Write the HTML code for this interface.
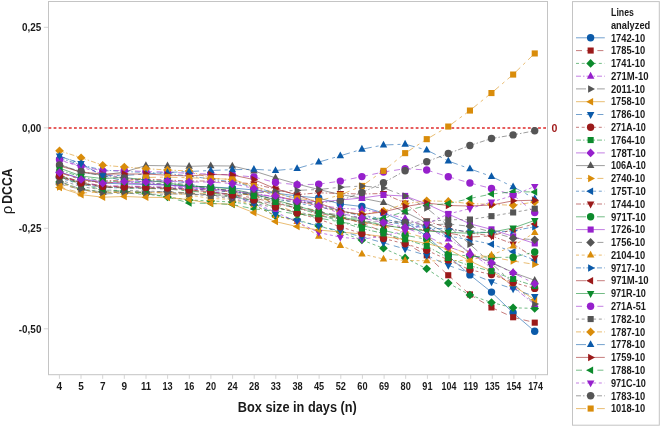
<!DOCTYPE html>
<html><head><meta charset="utf-8"><title>chart</title>
<style>html,body{margin:0;padding:0;background:#fff;}svg{display:block;will-change:transform;}</style></head>
<body>
<svg width="660" height="428" viewBox="0 0 660 428" font-family="Liberation Sans, sans-serif">
<rect width="660" height="428" fill="#fff"/>
<rect x="48.5" y="1.5" width="499" height="373.2" fill="#fff" stroke="#c4c4c4" stroke-width="1"/>
<line x1="43.8" x2="48" y1="27.3" y2="27.3" stroke="#d4d4d4" stroke-width="1"/>
<text x="41.4" y="31.0" font-size="10" font-weight="bold" fill="#1a1a1a" text-anchor="end" textLength="19.3" lengthAdjust="spacingAndGlyphs">0,25</text>
<line x1="43.8" x2="48" y1="127.8" y2="127.8" stroke="#d4d4d4" stroke-width="1"/>
<text x="41.4" y="131.5" font-size="10" font-weight="bold" fill="#1a1a1a" text-anchor="end" textLength="19.3" lengthAdjust="spacingAndGlyphs">0,00</text>
<line x1="43.8" x2="48" y1="228.3" y2="228.3" stroke="#d4d4d4" stroke-width="1"/>
<text x="41.4" y="232.0" font-size="10" font-weight="bold" fill="#1a1a1a" text-anchor="end" textLength="22.6" lengthAdjust="spacingAndGlyphs">-0,25</text>
<line x1="43.8" x2="48" y1="328.8" y2="328.8" stroke="#d4d4d4" stroke-width="1"/>
<text x="41.4" y="332.5" font-size="10" font-weight="bold" fill="#1a1a1a" text-anchor="end" textLength="22.6" lengthAdjust="spacingAndGlyphs">-0,50</text>
<line x1="59.4" x2="59.4" y1="375" y2="378.8" stroke="#d4d4d4" stroke-width="1"/>
<text x="59.4" y="389.6" font-size="10" font-weight="bold" fill="#1a1a1a" text-anchor="middle" textLength="5.56" lengthAdjust="spacingAndGlyphs">4</text>
<line x1="81.0" x2="81.0" y1="375" y2="378.8" stroke="#d4d4d4" stroke-width="1"/>
<text x="81.0" y="389.6" font-size="10" font-weight="bold" fill="#1a1a1a" text-anchor="middle" textLength="5.56" lengthAdjust="spacingAndGlyphs">5</text>
<line x1="102.7" x2="102.7" y1="375" y2="378.8" stroke="#d4d4d4" stroke-width="1"/>
<text x="102.7" y="389.6" font-size="10" font-weight="bold" fill="#1a1a1a" text-anchor="middle" textLength="5.56" lengthAdjust="spacingAndGlyphs">7</text>
<line x1="124.3" x2="124.3" y1="375" y2="378.8" stroke="#d4d4d4" stroke-width="1"/>
<text x="124.3" y="389.6" font-size="10" font-weight="bold" fill="#1a1a1a" text-anchor="middle" textLength="5.56" lengthAdjust="spacingAndGlyphs">9</text>
<line x1="146.0" x2="146.0" y1="375" y2="378.8" stroke="#d4d4d4" stroke-width="1"/>
<text x="146.0" y="389.6" font-size="10" font-weight="bold" fill="#1a1a1a" text-anchor="middle" textLength="10.2" lengthAdjust="spacingAndGlyphs">11</text>
<line x1="167.6" x2="167.6" y1="375" y2="378.8" stroke="#d4d4d4" stroke-width="1"/>
<text x="167.6" y="389.6" font-size="10" font-weight="bold" fill="#1a1a1a" text-anchor="middle" textLength="10.2" lengthAdjust="spacingAndGlyphs">13</text>
<line x1="189.3" x2="189.3" y1="375" y2="378.8" stroke="#d4d4d4" stroke-width="1"/>
<text x="189.3" y="389.6" font-size="10" font-weight="bold" fill="#1a1a1a" text-anchor="middle" textLength="10.2" lengthAdjust="spacingAndGlyphs">16</text>
<line x1="210.9" x2="210.9" y1="375" y2="378.8" stroke="#d4d4d4" stroke-width="1"/>
<text x="210.9" y="389.6" font-size="10" font-weight="bold" fill="#1a1a1a" text-anchor="middle" textLength="10.2" lengthAdjust="spacingAndGlyphs">20</text>
<line x1="232.6" x2="232.6" y1="375" y2="378.8" stroke="#d4d4d4" stroke-width="1"/>
<text x="232.6" y="389.6" font-size="10" font-weight="bold" fill="#1a1a1a" text-anchor="middle" textLength="10.2" lengthAdjust="spacingAndGlyphs">24</text>
<line x1="254.2" x2="254.2" y1="375" y2="378.8" stroke="#d4d4d4" stroke-width="1"/>
<text x="254.2" y="389.6" font-size="10" font-weight="bold" fill="#1a1a1a" text-anchor="middle" textLength="10.2" lengthAdjust="spacingAndGlyphs">28</text>
<line x1="275.8" x2="275.8" y1="375" y2="378.8" stroke="#d4d4d4" stroke-width="1"/>
<text x="275.8" y="389.6" font-size="10" font-weight="bold" fill="#1a1a1a" text-anchor="middle" textLength="10.2" lengthAdjust="spacingAndGlyphs">33</text>
<line x1="297.5" x2="297.5" y1="375" y2="378.8" stroke="#d4d4d4" stroke-width="1"/>
<text x="297.5" y="389.6" font-size="10" font-weight="bold" fill="#1a1a1a" text-anchor="middle" textLength="10.2" lengthAdjust="spacingAndGlyphs">38</text>
<line x1="319.1" x2="319.1" y1="375" y2="378.8" stroke="#d4d4d4" stroke-width="1"/>
<text x="319.1" y="389.6" font-size="10" font-weight="bold" fill="#1a1a1a" text-anchor="middle" textLength="10.2" lengthAdjust="spacingAndGlyphs">45</text>
<line x1="340.8" x2="340.8" y1="375" y2="378.8" stroke="#d4d4d4" stroke-width="1"/>
<text x="340.8" y="389.6" font-size="10" font-weight="bold" fill="#1a1a1a" text-anchor="middle" textLength="10.2" lengthAdjust="spacingAndGlyphs">52</text>
<line x1="362.4" x2="362.4" y1="375" y2="378.8" stroke="#d4d4d4" stroke-width="1"/>
<text x="362.4" y="389.6" font-size="10" font-weight="bold" fill="#1a1a1a" text-anchor="middle" textLength="10.2" lengthAdjust="spacingAndGlyphs">60</text>
<line x1="384.1" x2="384.1" y1="375" y2="378.8" stroke="#d4d4d4" stroke-width="1"/>
<text x="384.1" y="389.6" font-size="10" font-weight="bold" fill="#1a1a1a" text-anchor="middle" textLength="10.2" lengthAdjust="spacingAndGlyphs">69</text>
<line x1="405.7" x2="405.7" y1="375" y2="378.8" stroke="#d4d4d4" stroke-width="1"/>
<text x="405.7" y="389.6" font-size="10" font-weight="bold" fill="#1a1a1a" text-anchor="middle" textLength="10.2" lengthAdjust="spacingAndGlyphs">80</text>
<line x1="427.4" x2="427.4" y1="375" y2="378.8" stroke="#d4d4d4" stroke-width="1"/>
<text x="427.4" y="389.6" font-size="10" font-weight="bold" fill="#1a1a1a" text-anchor="middle" textLength="10.2" lengthAdjust="spacingAndGlyphs">91</text>
<line x1="449.0" x2="449.0" y1="375" y2="378.8" stroke="#d4d4d4" stroke-width="1"/>
<text x="449.0" y="389.6" font-size="10" font-weight="bold" fill="#1a1a1a" text-anchor="middle" textLength="14.8" lengthAdjust="spacingAndGlyphs">104</text>
<line x1="470.7" x2="470.7" y1="375" y2="378.8" stroke="#d4d4d4" stroke-width="1"/>
<text x="470.7" y="389.6" font-size="10" font-weight="bold" fill="#1a1a1a" text-anchor="middle" textLength="14.8" lengthAdjust="spacingAndGlyphs">119</text>
<line x1="492.3" x2="492.3" y1="375" y2="378.8" stroke="#d4d4d4" stroke-width="1"/>
<text x="492.3" y="389.6" font-size="10" font-weight="bold" fill="#1a1a1a" text-anchor="middle" textLength="14.8" lengthAdjust="spacingAndGlyphs">135</text>
<line x1="513.9" x2="513.9" y1="375" y2="378.8" stroke="#d4d4d4" stroke-width="1"/>
<text x="513.9" y="389.6" font-size="10" font-weight="bold" fill="#1a1a1a" text-anchor="middle" textLength="14.8" lengthAdjust="spacingAndGlyphs">154</text>
<line x1="535.6" x2="535.6" y1="375" y2="378.8" stroke="#d4d4d4" stroke-width="1"/>
<text x="535.6" y="389.6" font-size="10" font-weight="bold" fill="#1a1a1a" text-anchor="middle" textLength="14.8" lengthAdjust="spacingAndGlyphs">174</text>
<text x="237.8" y="411.6" font-size="14" font-weight="bold" fill="#1a1a1a" textLength="119" lengthAdjust="spacingAndGlyphs">Box size in days (n)</text>
<g transform="translate(12,214.3) rotate(-90)"><text x="0" y="0" font-size="15" fill="#1a1a1a"><tspan font-weight="normal">ρ</tspan></text><text x="10.6" y="0" font-size="15.3" font-weight="bold" fill="#1a1a1a" textLength="35.2" lengthAdjust="spacingAndGlyphs">DCCA</text></g>
<line x1="48.5" x2="547.5" y1="128" y2="128" stroke="#e02a2a" stroke-width="1.6" stroke-dasharray="2.8 2.3"/>
<text x="551.6" y="131.8" font-size="10.6" font-weight="bold" fill="#a01c1c" textLength="5.9" lengthAdjust="spacingAndGlyphs">0</text>
<path d="M59.5 172.0L81.1 179.0L102.7 183.0L124.3 184.0L145.9 184.5L167.5 185.0L189.1 186.0L210.7 187.0L232.3 188.0L253.9 190.0L275.5 193.0L297.1 196.0L318.7 198.0L340.3 204.0L361.9 206.5L383.5 213.0L405.1 222.0L426.7 236.0L448.3 256.0L469.9 274.9L491.5 292.1L513.1 312.8L534.7 331.3" fill="none" stroke="#0b5aa9" stroke-width="0.8" stroke-opacity="0.72"/>
<path d="M59.5 175.0L81.1 182.0M81.1 182.0L102.7 186.0M102.7 186.0L124.3 186.5M124.3 186.5L145.9 187.0M145.9 187.0L167.5 187.5M167.5 187.5L189.1 189.0M189.1 189.0L210.7 190.0M210.7 190.0L232.3 192.0M232.3 192.0L253.9 196.0M253.9 196.0L275.5 201.0M275.5 201.0L297.1 206.0M297.1 206.0L318.7 211.0M318.7 211.0L340.3 217.0M340.3 217.0L361.9 223.0M361.9 223.0L383.5 232.0M383.5 232.0L405.1 243.0M405.1 243.0L426.7 255.4M426.7 255.4L448.3 275.3M448.3 275.3L469.9 294.5M469.9 294.5L491.5 307.5M491.5 307.5L513.1 317.3M513.1 317.3L534.7 322.6" fill="none" stroke="#9b1a1a" stroke-width="0.8" stroke-opacity="0.72" stroke-dasharray="6 4.7"/>
<path d="M59.5 182.0L81.1 189.0M81.1 189.0L102.7 192.0M102.7 192.0L124.3 192.5M124.3 192.5L145.9 194.0M145.9 194.0L167.5 197.0M167.5 197.0L189.1 200.0M189.1 200.0L210.7 201.0M210.7 201.0L232.3 202.0M232.3 202.0L253.9 205.0M253.9 205.0L275.5 216.0M275.5 216.0L297.1 220.0M297.1 220.0L318.7 226.0M318.7 226.0L340.3 232.0M340.3 232.0L361.9 240.0M361.9 240.0L383.5 248.3M383.5 248.3L405.1 257.9M405.1 257.9L426.7 268.8M426.7 268.8L448.3 283.1M448.3 283.1L469.9 295.0M469.9 295.0L491.5 302.5M491.5 302.5L513.1 307.8M513.1 307.8L534.7 308.4" fill="none" stroke="#0c8a2c" stroke-width="0.8" stroke-opacity="0.72" stroke-dasharray="3 2.7"/>
<path d="M59.5 176.0L81.1 183.0M81.1 183.0L102.7 186.0M102.7 186.0L124.3 186.0M124.3 186.0L145.9 186.5M145.9 186.5L167.5 187.0M167.5 187.0L189.1 188.0M189.1 188.0L210.7 189.0M210.7 189.0L232.3 190.5M232.3 190.5L253.9 193.0M253.9 193.0L275.5 197.0M275.5 197.0L297.1 201.0M297.1 201.0L318.7 205.0M318.7 205.0L340.3 208.3M340.3 208.3L361.9 209.3M361.9 209.3L383.5 213.0M383.5 213.0L405.1 218.4M405.1 218.4L426.7 226.8M426.7 226.8L448.3 239.0M448.3 239.0L469.9 252.0M469.9 252.0L491.5 268.0M491.5 268.0L513.1 287.0M513.1 287.0L534.7 304.5" fill="none" stroke="#9620cc" stroke-width="0.8" stroke-opacity="0.72" stroke-dasharray="5 2 1.5 2"/>
<path d="M59.5 181.5L81.1 189.0M81.1 189.0L102.7 194.0M102.7 194.0L124.3 193.0M124.3 193.0L145.9 194.5M145.9 194.5L167.5 194.0M167.5 194.0L189.1 194.0M189.1 194.0L210.7 195.0M210.7 195.0L232.3 196.0M232.3 196.0L253.9 193.0M253.9 193.0L275.5 191.5M275.5 191.5L297.1 190.4M297.1 190.4L318.7 189.5M318.7 189.5L340.3 187.3M340.3 187.3L361.9 186.0M361.9 186.0L383.5 187.9M383.5 187.9L405.1 196.0M405.1 196.0L426.7 208.0M426.7 208.0L448.3 225.8M448.3 225.8L469.9 244.3M469.9 244.3L491.5 263.5M491.5 263.5L513.1 283.0M513.1 283.0L534.7 304.0" fill="none" stroke="#555555" stroke-width="0.8" stroke-opacity="0.72" stroke-dasharray="10 4 3 4"/>
<path d="M59.5 187.6L81.1 194.7L102.7 197.2L124.3 196.5L145.9 197.3L167.5 197.5L189.1 199.6L210.7 203.5L232.3 204.2L253.9 212.7L275.5 221.6L297.1 226.6L318.7 230.0L340.3 232.0L361.9 234.0L383.5 236.5L405.1 239.5L426.7 243.5L448.3 249.0L469.9 261.0L491.5 271.0L513.1 285.5L534.7 299.8" fill="none" stroke="#d98c0a" stroke-width="0.8" stroke-opacity="0.72"/>
<path d="M59.5 156.0L81.1 163.6M81.1 163.6L102.7 175.7M102.7 175.7L124.3 181.0M124.3 181.0L145.9 181.5M145.9 181.5L167.5 180.5M167.5 180.5L189.1 183.0M189.1 183.0L210.7 191.3M210.7 191.3L232.3 194.8M232.3 194.8L253.9 203.4M253.9 203.4L275.5 214.5M275.5 214.5L297.1 220.7M297.1 220.7L318.7 226.0M318.7 226.0L340.3 231.0M340.3 231.0L361.9 236.9M361.9 236.9L383.5 242.8M383.5 242.8L405.1 249.0M405.1 249.0L426.7 255.4M426.7 255.4L448.3 265.4M448.3 265.4L469.9 273.0M469.9 273.0L491.5 281.8M491.5 281.8L513.1 288.8M513.1 288.8L534.7 296.4" fill="none" stroke="#0b5aa9" stroke-width="0.8" stroke-opacity="0.72" stroke-dasharray="6 4.7"/>
<path d="M59.5 176.0L81.1 183.0M81.1 183.0L102.7 186.5M102.7 186.5L124.3 187.0M124.3 187.0L145.9 187.5M145.9 187.5L167.5 188.0M167.5 188.0L189.1 190.0M189.1 190.0L210.7 192.0M210.7 192.0L232.3 195.0M232.3 195.0L253.9 200.0M253.9 200.0L275.5 207.0M275.5 207.0L297.1 213.0M297.1 213.0L318.7 219.2M318.7 219.2L340.3 226.8M340.3 226.8L361.9 233.5M361.9 233.5L383.5 238.5M383.5 238.5L405.1 243.8M405.1 243.8L426.7 250.3M426.7 250.3L448.3 259.9M448.3 259.9L469.9 269.8M469.9 269.8L491.5 274.5M491.5 274.5L513.1 282.5M513.1 282.5L534.7 288.4" fill="none" stroke="#9b1a1a" stroke-width="0.8" stroke-opacity="0.72" stroke-dasharray="3 2.7"/>
<path d="M59.5 170.0L81.1 177.0M81.1 177.0L102.7 181.0M102.7 181.0L124.3 182.0M124.3 182.0L145.9 183.0M145.9 183.0L167.5 184.0M167.5 184.0L189.1 186.0M189.1 186.0L210.7 188.0M210.7 188.0L232.3 191.0M232.3 191.0L253.9 196.0M253.9 196.0L275.5 202.0M275.5 202.0L297.1 208.0M297.1 208.0L318.7 214.3M318.7 214.3L340.3 221.7M340.3 221.7L361.9 228.5M361.9 228.5L383.5 233.5M383.5 233.5L405.1 239.4M405.1 239.4L426.7 246.0M426.7 246.0L448.3 258.0M448.3 258.0L469.9 265.8M469.9 265.8L491.5 271.2M491.5 271.2L513.1 279.0M513.1 279.0L534.7 286.0" fill="none" stroke="#0c8a2c" stroke-width="0.8" stroke-opacity="0.72" stroke-dasharray="5 2 1.5 2"/>
<path d="M59.5 172.6L81.1 179.5M81.1 179.5L102.7 183.3M102.7 183.3L124.3 181.5M124.3 181.5L145.9 182.0M145.9 182.0L167.5 181.0M167.5 181.0L189.1 182.0M189.1 182.0L210.7 182.0M210.7 182.0L232.3 183.6M232.3 183.6L253.9 188.4M253.9 188.4L275.5 195.8M275.5 195.8L297.1 201.0M297.1 201.0L318.7 206.0M318.7 206.0L340.3 213.3M340.3 213.3L361.9 218.0M361.9 218.0L383.5 222.6M383.5 222.6L405.1 227.6M405.1 227.6L426.7 236.0M426.7 236.0L448.3 246.6M448.3 246.6L469.9 254.5M469.9 254.5L491.5 262.8M491.5 262.8L513.1 272.8M513.1 272.8L534.7 283.7" fill="none" stroke="#9620cc" stroke-width="0.8" stroke-opacity="0.72" stroke-dasharray="10 4 3 4"/>
<path d="M59.5 164.3L81.1 172.6L102.7 175.0L124.3 172.0L145.9 165.5L167.5 165.8L189.1 166.3L210.7 165.8L232.3 166.0L253.9 171.0L275.5 177.8L297.1 184.0L318.7 189.5L340.3 194.5L361.9 198.2L383.5 202.5L405.1 212.0L426.7 223.0L448.3 234.0L469.9 254.0L491.5 262.5L513.1 272.5L534.7 280.3" fill="none" stroke="#555555" stroke-width="0.8" stroke-opacity="0.72"/>
<path d="M59.5 187.0L81.1 193.0M81.1 193.0L102.7 192.0M102.7 192.0L124.3 192.5M124.3 192.5L145.9 192.6M145.9 192.6L167.5 192.6M167.5 192.6L189.1 193.0M189.1 193.0L210.7 193.5M210.7 193.5L232.3 194.0M232.3 194.0L253.9 194.6M253.9 194.6L275.5 204.0M275.5 204.0L297.1 213.3M297.1 213.3L318.7 215.5M318.7 215.5L340.3 217.5M340.3 217.5L361.9 222.6M361.9 222.6L383.5 226.4M383.5 226.4L405.1 232.0M405.1 232.0L426.7 238.5M426.7 238.5L448.3 246.6M448.3 246.6L469.9 254.5M469.9 254.5L491.5 257.0M491.5 257.0L513.1 261.0M513.1 261.0L534.7 264.4" fill="none" stroke="#d98c0a" stroke-width="0.8" stroke-opacity="0.72" stroke-dasharray="6 4.7"/>
<path d="M59.5 178.0L81.1 184.5M81.1 184.5L102.7 187.5M102.7 187.5L124.3 188.0M124.3 188.0L145.9 188.0M145.9 188.0L167.5 188.0M167.5 188.0L189.1 189.0M189.1 189.0L210.7 190.5M210.7 190.5L232.3 192.0M232.3 192.0L253.9 195.0M253.9 195.0L275.5 199.0M275.5 199.0L297.1 203.0M297.1 203.0L318.7 207.0M318.7 207.0L340.3 211.0M340.3 211.0L361.9 215.0M361.9 215.0L383.5 219.0M383.5 219.0L405.1 223.0M405.1 223.0L426.7 227.0M426.7 227.0L448.3 236.0M448.3 236.0L469.9 239.8M469.9 239.8L491.5 244.2M491.5 244.2L513.1 251.8M513.1 251.8L534.7 260.0" fill="none" stroke="#0b5aa9" stroke-width="0.8" stroke-opacity="0.72" stroke-dasharray="3 2.7"/>
<path d="M59.5 175.5L81.1 182.0M81.1 182.0L102.7 181.0M102.7 181.0L124.3 180.0M124.3 180.0L145.9 179.2M145.9 179.2L167.5 180.0M167.5 180.0L189.1 181.0M189.1 181.0L210.7 181.0M210.7 181.0L232.3 182.0M232.3 182.0L253.9 184.0M253.9 184.0L275.5 189.0M275.5 189.0L297.1 194.7M297.1 194.7L318.7 192.8M318.7 192.8L340.3 193.5M340.3 193.5L361.9 194.0M361.9 194.0L383.5 193.5M383.5 193.5L405.1 203.0M405.1 203.0L426.7 221.0M426.7 221.0L448.3 228.0M448.3 228.0L469.9 233.0M469.9 233.0L491.5 235.8M491.5 235.8L513.1 244.0M513.1 244.0L534.7 257.8" fill="none" stroke="#9b1a1a" stroke-width="0.8" stroke-opacity="0.72" stroke-dasharray="5 2 1.5 2"/>
<path d="M59.5 176.0L81.1 183.0M81.1 183.0L102.7 187.0M102.7 187.0L124.3 188.0M124.3 188.0L145.9 188.5M145.9 188.5L167.5 189.0M167.5 189.0L189.1 191.0M189.1 191.0L210.7 193.0M210.7 193.0L232.3 196.0M232.3 196.0L253.9 201.0M253.9 201.0L275.5 207.0M275.5 207.0L297.1 213.0M297.1 213.0L318.7 218.0M318.7 218.0L340.3 222.0M340.3 222.0L361.9 225.5M361.9 225.5L383.5 230.5M383.5 230.5L405.1 235.2M405.1 235.2L426.7 239.4M426.7 239.4L448.3 254.3M448.3 254.3L469.9 256.0M469.9 256.0L491.5 257.5M491.5 257.5L513.1 257.2M513.1 257.2L534.7 252.0" fill="none" stroke="#0c8a2c" stroke-width="0.8" stroke-opacity="0.72" stroke-dasharray="10 4 3 4"/>
<path d="M59.5 172.0L81.1 178.5L102.7 182.0L124.3 183.0L145.9 184.0L167.5 185.0L189.1 187.0L210.7 189.0L232.3 191.0L253.9 194.0L275.5 197.0L297.1 200.0L318.7 202.0L340.3 200.0L361.9 198.0L383.5 195.0L405.1 196.0L426.7 204.0L448.3 214.0L469.9 223.8L491.5 229.4L513.1 236.4L534.7 243.5" fill="none" stroke="#9620cc" stroke-width="0.8" stroke-opacity="0.72"/>
<path d="M59.5 184.0L81.1 189.5M81.1 189.5L102.7 192.0M102.7 192.0L124.3 191.5M124.3 191.5L145.9 192.0M145.9 192.0L167.5 191.5M167.5 191.5L189.1 193.0M189.1 193.0L210.7 195.0M210.7 195.0L232.3 197.0M232.3 197.0L253.9 200.0M253.9 200.0L275.5 204.0M275.5 204.0L297.1 208.0M297.1 208.0L318.7 212.0M318.7 212.0L340.3 215.0M340.3 215.0L361.9 218.0M361.9 218.0L383.5 220.5M383.5 220.5L405.1 222.6M405.1 222.6L426.7 225.0M426.7 225.0L448.3 224.0M448.3 224.0L469.9 226.3M469.9 226.3L491.5 232.0M491.5 232.0L513.1 238.2M513.1 238.2L534.7 239.7" fill="none" stroke="#555555" stroke-width="0.8" stroke-opacity="0.72" stroke-dasharray="6 4.7"/>
<path d="M59.5 183.0L81.1 190.0M81.1 190.0L102.7 192.5M102.7 192.5L124.3 192.0M124.3 192.0L145.9 192.5M145.9 192.5L167.5 193.0M167.5 193.0L189.1 195.0M189.1 195.0L210.7 198.5M210.7 198.5L232.3 199.5M232.3 199.5L253.9 205.0M253.9 205.0L275.5 215.5M275.5 215.5L297.1 221.5M297.1 221.5L318.7 236.3M318.7 236.3L340.3 245.4M340.3 245.4L361.9 254.0M361.9 254.0L383.5 259.0M383.5 259.0L405.1 260.4M405.1 260.4L426.7 260.8M426.7 260.8L448.3 261.0M448.3 261.0L469.9 260.0M469.9 260.0L491.5 255.2M491.5 255.2L513.1 246.0M513.1 246.0L534.7 232.6" fill="none" stroke="#d98c0a" stroke-width="0.8" stroke-opacity="0.72" stroke-dasharray="3 2.7"/>
<path d="M59.5 158.0L81.1 165.0M81.1 165.0L102.7 170.0M102.7 170.0L124.3 171.5M124.3 171.5L145.9 172.5M145.9 172.5L167.5 173.5M167.5 173.5L189.1 176.0M189.1 176.0L210.7 179.0M210.7 179.0L232.3 182.0M232.3 182.0L253.9 187.0M253.9 187.0L275.5 193.0M275.5 193.0L297.1 199.0M297.1 199.0L318.7 205.0M318.7 205.0L340.3 211.0M340.3 211.0L361.9 216.0M361.9 216.0L383.5 221.0M383.5 221.0L405.1 225.0M405.1 225.0L426.7 228.0M426.7 228.0L448.3 229.0M448.3 229.0L469.9 232.0M469.9 232.0L491.5 232.5M491.5 232.5L513.1 230.8M513.1 230.8L534.7 226.8" fill="none" stroke="#0b5aa9" stroke-width="0.8" stroke-opacity="0.72" stroke-dasharray="5 2 1.5 2"/>
<path d="M59.5 177.0L81.1 183.5M81.1 183.5L102.7 187.0M102.7 187.0L124.3 187.5M124.3 187.5L145.9 188.0M145.9 188.0L167.5 188.5M167.5 188.5L189.1 190.0M189.1 190.0L210.7 192.0M210.7 192.0L232.3 194.5M232.3 194.5L253.9 198.0M253.9 198.0L275.5 203.0M275.5 203.0L297.1 208.0M297.1 208.0L318.7 213.0M318.7 213.0L340.3 218.0M340.3 218.0L361.9 222.0M361.9 222.0L383.5 225.5M383.5 225.5L405.1 228.0M405.1 228.0L426.7 230.0M426.7 230.0L448.3 233.0M448.3 233.0L469.9 237.0M469.9 237.0L491.5 236.0M491.5 236.0L513.1 229.5M513.1 229.5L534.7 224.0" fill="none" stroke="#9b1a1a" stroke-width="0.8" stroke-opacity="0.72" stroke-dasharray="10 4 3 4"/>
<path d="M59.5 168.0L81.1 176.0L102.7 178.6L124.3 177.5L145.9 180.0L167.5 183.0L189.1 186.0L210.7 187.0L232.3 189.0L253.9 194.0L275.5 200.0L297.1 206.0L318.7 212.0L340.3 217.0L361.9 221.0L383.5 225.0L405.1 228.5L426.7 231.0L448.3 232.3L469.9 233.3L491.5 232.2L513.1 228.0L534.7 220.4" fill="none" stroke="#0c8a2c" stroke-width="0.8" stroke-opacity="0.72"/>
<path d="M59.5 159.8L81.1 166.0M81.1 166.0L102.7 171.0M102.7 171.0L124.3 170.4M124.3 170.4L145.9 171.6M145.9 171.6L167.5 172.0M167.5 172.0L189.1 173.5M189.1 173.5L210.7 174.0M210.7 174.0L232.3 175.0M232.3 175.0L253.9 177.0M253.9 177.0L275.5 182.5M275.5 182.5L297.1 184.8M297.1 184.8L318.7 184.2M318.7 184.2L340.3 181.1M340.3 181.1L361.9 176.6M361.9 176.6L383.5 172.0M383.5 172.0L405.1 168.7M405.1 168.7L426.7 170.0M426.7 170.0L448.3 176.7M448.3 176.7L469.9 183.0M469.9 183.0L491.5 188.5M491.5 188.5L513.1 195.0M513.1 195.0L534.7 212.6" fill="none" stroke="#9620cc" stroke-width="0.8" stroke-opacity="0.72" stroke-dasharray="6 4.7"/>
<path d="M59.5 180.0L81.1 186.5M81.1 186.5L102.7 190.0M102.7 190.0L124.3 190.5M124.3 190.5L145.9 191.0M145.9 191.0L167.5 192.0M167.5 192.0L189.1 194.0M189.1 194.0L210.7 196.0M210.7 196.0L232.3 198.8M232.3 198.8L253.9 203.0M253.9 203.0L275.5 208.0M275.5 208.0L297.1 212.0M297.1 212.0L318.7 216.0M318.7 216.0L340.3 219.0M340.3 219.0L361.9 221.0M361.9 221.0L383.5 222.5M383.5 222.5L405.1 222.5M405.1 222.5L426.7 221.5M426.7 221.5L448.3 219.7M448.3 219.7L469.9 219.6M469.9 219.6L491.5 216.2M491.5 216.2L513.1 212.5M513.1 212.5L534.7 208.7" fill="none" stroke="#555555" stroke-width="0.8" stroke-opacity="0.72" stroke-dasharray="3 2.7"/>
<path d="M59.5 150.8L81.1 157.7M81.1 157.7L102.7 165.2M102.7 165.2L124.3 167.0M124.3 167.0L145.9 168.7M145.9 168.7L167.5 170.0M167.5 170.0L189.1 171.0M189.1 171.0L210.7 178.4M210.7 178.4L232.3 179.4M232.3 179.4L253.9 187.5M253.9 187.5L275.5 195.5M275.5 195.5L297.1 201.0M297.1 201.0L318.7 206.0M318.7 206.0L340.3 212.0M340.3 212.0L361.9 214.5M361.9 214.5L383.5 211.0M383.5 211.0L405.1 203.7M405.1 203.7L426.7 200.8M426.7 200.8L448.3 201.4M448.3 201.4L469.9 203.6M469.9 203.6L491.5 204.4M491.5 204.4L513.1 205.3M513.1 205.3L534.7 202.0" fill="none" stroke="#d98c0a" stroke-width="0.8" stroke-opacity="0.72" stroke-dasharray="5 2 1.5 2"/>
<path d="M59.5 156.3L81.1 163.6M81.1 163.6L102.7 175.7M102.7 175.7L124.3 175.5M124.3 175.5L145.9 174.0M145.9 174.0L167.5 172.5M167.5 172.5L189.1 171.5M189.1 171.5L210.7 170.5M210.7 170.5L232.3 169.7M232.3 169.7L253.9 169.3M253.9 169.3L275.5 170.5M275.5 170.5L297.1 168.5M297.1 168.5L318.7 162.1M318.7 162.1L340.3 155.8M340.3 155.8L361.9 149.2M361.9 149.2L383.5 145.0M383.5 145.0L405.1 144.2M405.1 144.2L426.7 150.0M426.7 150.0L448.3 161.0M448.3 161.0L469.9 168.8M469.9 168.8L491.5 176.5M491.5 176.5L513.1 186.8M513.1 186.8L534.7 198.5" fill="none" stroke="#0b5aa9" stroke-width="0.8" stroke-opacity="0.72" stroke-dasharray="10 4 3 4"/>
<path d="M59.5 166.0L81.1 172.0L102.7 174.0L124.3 174.0L145.9 174.0L167.5 175.2L189.1 176.0L210.7 174.4L232.3 175.0L253.9 179.6L275.5 188.8L297.1 195.0L318.7 203.0L340.3 211.0L361.9 214.5L383.5 211.9L405.1 206.6L426.7 203.0L448.3 205.5L469.9 206.0L491.5 205.0L513.1 200.8L534.7 200.2" fill="none" stroke="#9b1a1a" stroke-width="0.8" stroke-opacity="0.72"/>
<path d="M59.5 177.0L81.1 184.0M81.1 184.0L102.7 190.0M102.7 190.0L124.3 191.0M124.3 191.0L145.9 193.0M145.9 193.0L167.5 197.0M167.5 197.0L189.1 203.0M189.1 203.0L210.7 203.5M210.7 203.5L232.3 204.5M232.3 204.5L253.9 208.9M253.9 208.9L275.5 211.0M275.5 211.0L297.1 214.0M297.1 214.0L318.7 216.0M318.7 216.0L340.3 217.5M340.3 217.5L361.9 218.4M361.9 218.4L383.5 218.3M383.5 218.3L405.1 211.3M405.1 211.3L426.7 205.4M426.7 205.4L448.3 203.6M448.3 203.6L469.9 198.5M469.9 198.5L491.5 194.0M491.5 194.0L513.1 191.8M513.1 191.8L534.7 191.9" fill="none" stroke="#0c8a2c" stroke-width="0.8" stroke-opacity="0.72" stroke-dasharray="6 4.7"/>
<path d="M59.5 160.0L81.1 166.9M81.1 166.9L102.7 174.0M102.7 174.0L124.3 178.0M124.3 178.0L145.9 182.0M145.9 182.0L167.5 185.0M167.5 185.0L189.1 188.0M189.1 188.0L210.7 191.0M210.7 191.0L232.3 196.0M232.3 196.0L253.9 203.0M253.9 203.0L275.5 212.0M275.5 212.0L297.1 222.0M297.1 222.0L318.7 232.5M318.7 232.5L340.3 237.2M340.3 237.2L361.9 239.3M361.9 239.3L383.5 236.0M383.5 236.0L405.1 231.0M405.1 231.0L426.7 224.0M426.7 224.0L448.3 214.0M448.3 214.0L469.9 208.6M469.9 208.6L491.5 202.0M491.5 202.0L513.1 195.5M513.1 195.5L534.7 186.4" fill="none" stroke="#9620cc" stroke-width="0.8" stroke-opacity="0.72" stroke-dasharray="3 2.7"/>
<path d="M59.5 165.0L81.1 171.5M81.1 171.5L102.7 176.0M102.7 176.0L124.3 178.0M124.3 178.0L145.9 180.0M145.9 180.0L167.5 182.0M167.5 182.0L189.1 185.0M189.1 185.0L210.7 188.0M210.7 188.0L232.3 191.0M232.3 191.0L253.9 195.0M253.9 195.0L275.5 199.0M275.5 199.0L297.1 202.0M297.1 202.0L318.7 203.0M318.7 203.0L340.3 200.6M340.3 200.6L361.9 192.5M361.9 192.5L383.5 182.8M383.5 182.8L405.1 170.7M405.1 170.7L426.7 161.7M426.7 161.7L448.3 153.5M448.3 153.5L469.9 145.5M469.9 145.5L491.5 138.5M491.5 138.5L513.1 134.9M513.1 134.9L534.7 130.8" fill="none" stroke="#555555" stroke-width="0.8" stroke-opacity="0.72" stroke-dasharray="5 2 1.5 2"/>
<path d="M59.5 172.6L81.1 179.5M81.1 179.5L102.7 183.3M102.7 183.3L124.3 181.5M124.3 181.5L145.9 177.5M145.9 177.5L167.5 177.0M167.5 177.0L189.1 177.8M189.1 177.8L210.7 178.4M210.7 178.4L232.3 179.4M232.3 179.4L253.9 186.0M253.9 186.0L275.5 193.0M275.5 193.0L297.1 198.5M297.1 198.5L318.7 200.8M318.7 200.8L340.3 195.0M340.3 195.0L361.9 186.0M361.9 186.0L383.5 170.8M383.5 170.8L405.1 153.2M405.1 153.2L426.7 139.2M426.7 139.2L448.3 126.5M448.3 126.5L469.9 110.5M469.9 110.5L491.5 93.0M491.5 93.0L513.1 74.5M513.1 74.5L534.7 53.4" fill="none" stroke="#d98c0a" stroke-width="0.8" stroke-opacity="0.72" stroke-dasharray="10 4 3 4"/>
<circle cx="59.5" cy="172.0" r="3.7" fill="#0b5aa9"/>
<circle cx="81.1" cy="179.0" r="3.7" fill="#0b5aa9"/>
<circle cx="102.7" cy="183.0" r="3.7" fill="#0b5aa9"/>
<circle cx="124.3" cy="184.0" r="3.7" fill="#0b5aa9"/>
<circle cx="145.9" cy="184.5" r="3.7" fill="#0b5aa9"/>
<circle cx="167.5" cy="185.0" r="3.7" fill="#0b5aa9"/>
<circle cx="189.1" cy="186.0" r="3.7" fill="#0b5aa9"/>
<circle cx="210.7" cy="187.0" r="3.7" fill="#0b5aa9"/>
<circle cx="232.3" cy="188.0" r="3.7" fill="#0b5aa9"/>
<circle cx="253.9" cy="190.0" r="3.7" fill="#0b5aa9"/>
<circle cx="275.5" cy="193.0" r="3.7" fill="#0b5aa9"/>
<circle cx="297.1" cy="196.0" r="3.7" fill="#0b5aa9"/>
<circle cx="318.7" cy="198.0" r="3.7" fill="#0b5aa9"/>
<circle cx="340.3" cy="204.0" r="3.7" fill="#0b5aa9"/>
<circle cx="361.9" cy="206.5" r="3.7" fill="#0b5aa9"/>
<circle cx="383.5" cy="213.0" r="3.7" fill="#0b5aa9"/>
<circle cx="405.1" cy="222.0" r="3.7" fill="#0b5aa9"/>
<circle cx="426.7" cy="236.0" r="3.7" fill="#0b5aa9"/>
<circle cx="448.3" cy="256.0" r="3.7" fill="#0b5aa9"/>
<circle cx="469.9" cy="274.9" r="3.7" fill="#0b5aa9"/>
<circle cx="491.5" cy="292.1" r="3.7" fill="#0b5aa9"/>
<circle cx="513.1" cy="312.8" r="3.7" fill="#0b5aa9"/>
<circle cx="534.7" cy="331.3" r="3.7" fill="#0b5aa9"/>
<rect x="56.5" y="171.9" width="6.1" height="6.1" fill="#9b1a1a"/>
<rect x="78.0" y="178.9" width="6.1" height="6.1" fill="#9b1a1a"/>
<rect x="99.7" y="182.9" width="6.1" height="6.1" fill="#9b1a1a"/>
<rect x="121.3" y="183.4" width="6.1" height="6.1" fill="#9b1a1a"/>
<rect x="142.8" y="183.9" width="6.1" height="6.1" fill="#9b1a1a"/>
<rect x="164.4" y="184.4" width="6.1" height="6.1" fill="#9b1a1a"/>
<rect x="186.1" y="185.9" width="6.1" height="6.1" fill="#9b1a1a"/>
<rect x="207.7" y="186.9" width="6.1" height="6.1" fill="#9b1a1a"/>
<rect x="229.2" y="188.9" width="6.1" height="6.1" fill="#9b1a1a"/>
<rect x="250.8" y="192.9" width="6.1" height="6.1" fill="#9b1a1a"/>
<rect x="272.4" y="197.9" width="6.1" height="6.1" fill="#9b1a1a"/>
<rect x="294.1" y="202.9" width="6.1" height="6.1" fill="#9b1a1a"/>
<rect x="315.7" y="207.9" width="6.1" height="6.1" fill="#9b1a1a"/>
<rect x="337.2" y="213.9" width="6.1" height="6.1" fill="#9b1a1a"/>
<rect x="358.9" y="219.9" width="6.1" height="6.1" fill="#9b1a1a"/>
<rect x="380.4" y="228.9" width="6.1" height="6.1" fill="#9b1a1a"/>
<rect x="402.1" y="239.9" width="6.1" height="6.1" fill="#9b1a1a"/>
<rect x="423.7" y="252.3" width="6.1" height="6.1" fill="#9b1a1a"/>
<rect x="445.2" y="272.2" width="6.1" height="6.1" fill="#9b1a1a"/>
<rect x="466.9" y="291.4" width="6.1" height="6.1" fill="#9b1a1a"/>
<rect x="488.4" y="304.4" width="6.1" height="6.1" fill="#9b1a1a"/>
<rect x="510.1" y="314.2" width="6.1" height="6.1" fill="#9b1a1a"/>
<rect x="531.7" y="319.6" width="6.1" height="6.1" fill="#9b1a1a"/>
<polygon points="59.5,177.7 63.8,182.0 59.5,186.3 55.2,182.0" fill="#0c8a2c"/>
<polygon points="81.1,184.7 85.4,189.0 81.1,193.3 76.8,189.0" fill="#0c8a2c"/>
<polygon points="102.7,187.7 107.0,192.0 102.7,196.3 98.4,192.0" fill="#0c8a2c"/>
<polygon points="124.3,188.2 128.6,192.5 124.3,196.8 120.0,192.5" fill="#0c8a2c"/>
<polygon points="145.9,189.7 150.2,194.0 145.9,198.3 141.6,194.0" fill="#0c8a2c"/>
<polygon points="167.5,192.7 171.8,197.0 167.5,201.3 163.2,197.0" fill="#0c8a2c"/>
<polygon points="189.1,195.7 193.4,200.0 189.1,204.3 184.8,200.0" fill="#0c8a2c"/>
<polygon points="210.7,196.7 215.0,201.0 210.7,205.3 206.4,201.0" fill="#0c8a2c"/>
<polygon points="232.3,197.7 236.6,202.0 232.3,206.3 228.0,202.0" fill="#0c8a2c"/>
<polygon points="253.9,200.7 258.2,205.0 253.9,209.3 249.6,205.0" fill="#0c8a2c"/>
<polygon points="275.5,211.7 279.8,216.0 275.5,220.3 271.2,216.0" fill="#0c8a2c"/>
<polygon points="297.1,215.7 301.4,220.0 297.1,224.3 292.8,220.0" fill="#0c8a2c"/>
<polygon points="318.7,221.7 323.0,226.0 318.7,230.3 314.4,226.0" fill="#0c8a2c"/>
<polygon points="340.3,227.7 344.6,232.0 340.3,236.3 336.0,232.0" fill="#0c8a2c"/>
<polygon points="361.9,235.7 366.2,240.0 361.9,244.3 357.6,240.0" fill="#0c8a2c"/>
<polygon points="383.5,244.0 387.8,248.3 383.5,252.6 379.2,248.3" fill="#0c8a2c"/>
<polygon points="405.1,253.6 409.4,257.9 405.1,262.2 400.8,257.9" fill="#0c8a2c"/>
<polygon points="426.7,264.5 431.0,268.8 426.7,273.1 422.4,268.8" fill="#0c8a2c"/>
<polygon points="448.3,278.8 452.6,283.1 448.3,287.4 444.0,283.1" fill="#0c8a2c"/>
<polygon points="469.9,290.7 474.2,295.0 469.9,299.3 465.6,295.0" fill="#0c8a2c"/>
<polygon points="491.5,298.2 495.8,302.5 491.5,306.8 487.2,302.5" fill="#0c8a2c"/>
<polygon points="513.1,303.5 517.4,307.8 513.1,312.1 508.8,307.8" fill="#0c8a2c"/>
<polygon points="534.7,304.1 539.0,308.4 534.7,312.7 530.4,308.4" fill="#0c8a2c"/>
<polygon points="59.5,171.7 63.2,178.5 55.8,178.5" fill="#9620cc"/>
<polygon points="81.1,178.7 84.8,185.5 77.3,185.5" fill="#9620cc"/>
<polygon points="102.7,181.7 106.5,188.5 99.0,188.5" fill="#9620cc"/>
<polygon points="124.3,181.7 128.1,188.5 120.6,188.5" fill="#9620cc"/>
<polygon points="145.9,182.2 149.7,189.0 142.2,189.0" fill="#9620cc"/>
<polygon points="167.5,182.7 171.2,189.5 163.8,189.5" fill="#9620cc"/>
<polygon points="189.1,183.7 192.9,190.5 185.4,190.5" fill="#9620cc"/>
<polygon points="210.7,184.7 214.5,191.5 207.0,191.5" fill="#9620cc"/>
<polygon points="232.3,186.2 236.1,193.0 228.6,193.0" fill="#9620cc"/>
<polygon points="253.9,188.7 257.6,195.5 250.2,195.5" fill="#9620cc"/>
<polygon points="275.5,192.7 279.2,199.5 271.8,199.5" fill="#9620cc"/>
<polygon points="297.1,196.7 300.9,203.5 293.4,203.5" fill="#9620cc"/>
<polygon points="318.7,200.7 322.5,207.5 315.0,207.5" fill="#9620cc"/>
<polygon points="340.3,204.0 344.1,210.8 336.6,210.8" fill="#9620cc"/>
<polygon points="361.9,205.0 365.7,211.8 358.2,211.8" fill="#9620cc"/>
<polygon points="383.5,208.7 387.2,215.5 379.8,215.5" fill="#9620cc"/>
<polygon points="405.1,214.1 408.9,220.9 401.4,220.9" fill="#9620cc"/>
<polygon points="426.7,222.5 430.5,229.3 423.0,229.3" fill="#9620cc"/>
<polygon points="448.3,234.7 452.1,241.5 444.6,241.5" fill="#9620cc"/>
<polygon points="469.9,247.7 473.7,254.5 466.2,254.5" fill="#9620cc"/>
<polygon points="491.5,263.6 495.2,270.5 487.8,270.5" fill="#9620cc"/>
<polygon points="513.1,282.6 516.9,289.5 509.4,289.5" fill="#9620cc"/>
<polygon points="534.7,300.1 538.5,307.0 531.0,307.0" fill="#9620cc"/>
<polygon points="59.5,160.0 63.2,166.8 55.8,166.8" fill="#555555"/>
<polygon points="81.1,168.2 84.8,175.1 77.3,175.1" fill="#555555"/>
<polygon points="102.7,170.7 106.5,177.5 99.0,177.5" fill="#555555"/>
<polygon points="124.3,167.7 128.1,174.5 120.6,174.5" fill="#555555"/>
<polygon points="145.9,161.2 149.7,168.0 142.2,168.0" fill="#555555"/>
<polygon points="167.5,161.5 171.2,168.3 163.8,168.3" fill="#555555"/>
<polygon points="189.1,162.0 192.9,168.8 185.4,168.8" fill="#555555"/>
<polygon points="210.7,161.5 214.5,168.3 207.0,168.3" fill="#555555"/>
<polygon points="232.3,161.7 236.1,168.5 228.6,168.5" fill="#555555"/>
<polygon points="253.9,166.7 257.6,173.5 250.2,173.5" fill="#555555"/>
<polygon points="275.5,173.5 279.2,180.3 271.8,180.3" fill="#555555"/>
<polygon points="297.1,179.7 300.9,186.5 293.4,186.5" fill="#555555"/>
<polygon points="318.7,185.2 322.5,192.0 315.0,192.0" fill="#555555"/>
<polygon points="340.3,190.2 344.1,197.0 336.6,197.0" fill="#555555"/>
<polygon points="361.9,193.8 365.7,200.7 358.2,200.7" fill="#555555"/>
<polygon points="383.5,198.2 387.2,205.0 379.8,205.0" fill="#555555"/>
<polygon points="405.1,207.7 408.9,214.5 401.4,214.5" fill="#555555"/>
<polygon points="426.7,218.7 430.5,225.5 423.0,225.5" fill="#555555"/>
<polygon points="448.3,229.7 452.1,236.5 444.6,236.5" fill="#555555"/>
<polygon points="469.9,249.7 473.7,256.5 466.2,256.5" fill="#555555"/>
<polygon points="491.5,258.1 495.2,265.0 487.8,265.0" fill="#555555"/>
<polygon points="513.1,268.1 516.9,275.0 509.4,275.0" fill="#555555"/>
<polygon points="534.7,275.9 538.5,282.8 531.0,282.8" fill="#555555"/>
<polygon points="63.9,187.0 57.0,183.2 57.0,190.8" fill="#d98c0a"/>
<polygon points="85.4,193.0 78.6,189.2 78.6,196.8" fill="#d98c0a"/>
<polygon points="107.0,192.0 100.2,188.2 100.2,195.8" fill="#d98c0a"/>
<polygon points="128.7,192.5 121.8,188.8 121.8,196.2" fill="#d98c0a"/>
<polygon points="150.2,192.6 143.4,188.8 143.4,196.3" fill="#d98c0a"/>
<polygon points="171.8,192.6 165.0,188.8 165.0,196.3" fill="#d98c0a"/>
<polygon points="193.5,193.0 186.6,189.2 186.6,196.8" fill="#d98c0a"/>
<polygon points="215.1,193.5 208.2,189.8 208.2,197.2" fill="#d98c0a"/>
<polygon points="236.7,194.0 229.8,190.2 229.8,197.8" fill="#d98c0a"/>
<polygon points="258.2,194.6 251.4,190.8 251.4,198.3" fill="#d98c0a"/>
<polygon points="279.9,204.0 273.0,200.2 273.0,207.8" fill="#d98c0a"/>
<polygon points="301.5,213.3 294.6,209.6 294.6,217.1" fill="#d98c0a"/>
<polygon points="323.1,215.5 316.2,211.8 316.2,219.2" fill="#d98c0a"/>
<polygon points="344.7,217.5 337.8,213.8 337.8,221.2" fill="#d98c0a"/>
<polygon points="366.3,222.6 359.4,218.8 359.4,226.3" fill="#d98c0a"/>
<polygon points="387.9,226.4 381.0,222.7 381.0,230.2" fill="#d98c0a"/>
<polygon points="409.5,232.0 402.6,228.2 402.6,235.8" fill="#d98c0a"/>
<polygon points="431.1,238.5 424.2,234.8 424.2,242.2" fill="#d98c0a"/>
<polygon points="452.7,246.6 445.8,242.8 445.8,250.3" fill="#d98c0a"/>
<polygon points="474.3,254.5 467.4,250.8 467.4,258.2" fill="#d98c0a"/>
<polygon points="495.9,257.0 489.0,253.2 489.0,260.8" fill="#d98c0a"/>
<polygon points="517.5,261.0 510.6,257.2 510.6,264.8" fill="#d98c0a"/>
<polygon points="539.1,264.4 532.2,260.6 532.2,268.1" fill="#d98c0a"/>
<polygon points="55.1,178.0 62.0,174.2 62.0,181.8" fill="#0b5aa9"/>
<polygon points="76.8,184.5 83.6,180.8 83.6,188.2" fill="#0b5aa9"/>
<polygon points="98.4,187.5 105.2,183.8 105.2,191.2" fill="#0b5aa9"/>
<polygon points="120.0,188.0 126.8,184.2 126.8,191.8" fill="#0b5aa9"/>
<polygon points="141.6,188.0 148.4,184.2 148.4,191.8" fill="#0b5aa9"/>
<polygon points="163.2,188.0 170.0,184.2 170.0,191.8" fill="#0b5aa9"/>
<polygon points="184.8,189.0 191.6,185.2 191.6,192.8" fill="#0b5aa9"/>
<polygon points="206.4,190.5 213.2,186.8 213.2,194.2" fill="#0b5aa9"/>
<polygon points="228.0,192.0 234.8,188.2 234.8,195.8" fill="#0b5aa9"/>
<polygon points="249.6,195.0 256.4,191.2 256.4,198.8" fill="#0b5aa9"/>
<polygon points="271.1,199.0 278.0,195.2 278.0,202.8" fill="#0b5aa9"/>
<polygon points="292.8,203.0 299.6,199.2 299.6,206.8" fill="#0b5aa9"/>
<polygon points="314.4,207.0 321.2,203.2 321.2,210.8" fill="#0b5aa9"/>
<polygon points="335.9,211.0 342.8,207.2 342.8,214.8" fill="#0b5aa9"/>
<polygon points="357.6,215.0 364.4,211.2 364.4,218.8" fill="#0b5aa9"/>
<polygon points="379.1,219.0 386.0,215.2 386.0,222.8" fill="#0b5aa9"/>
<polygon points="400.8,223.0 407.6,219.2 407.6,226.8" fill="#0b5aa9"/>
<polygon points="422.4,227.0 429.2,223.2 429.2,230.8" fill="#0b5aa9"/>
<polygon points="443.9,236.0 450.8,232.2 450.8,239.8" fill="#0b5aa9"/>
<polygon points="465.6,239.8 472.4,236.1 472.4,243.6" fill="#0b5aa9"/>
<polygon points="487.1,244.2 494.0,240.4 494.0,247.9" fill="#0b5aa9"/>
<polygon points="508.8,251.8 515.6,248.1 515.6,255.6" fill="#0b5aa9"/>
<polygon points="530.4,260.0 537.2,256.2 537.2,263.8" fill="#0b5aa9"/>
<polygon points="59.5,179.8 63.2,173.0 55.8,173.0" fill="#9b1a1a"/>
<polygon points="81.1,186.3 84.8,179.5 77.3,179.5" fill="#9b1a1a"/>
<polygon points="102.7,185.3 106.5,178.5 99.0,178.5" fill="#9b1a1a"/>
<polygon points="124.3,184.3 128.1,177.5 120.6,177.5" fill="#9b1a1a"/>
<polygon points="145.9,183.5 149.7,176.7 142.2,176.7" fill="#9b1a1a"/>
<polygon points="167.5,184.3 171.2,177.5 163.8,177.5" fill="#9b1a1a"/>
<polygon points="189.1,185.3 192.9,178.5 185.4,178.5" fill="#9b1a1a"/>
<polygon points="210.7,185.3 214.5,178.5 207.0,178.5" fill="#9b1a1a"/>
<polygon points="232.3,186.3 236.1,179.5 228.6,179.5" fill="#9b1a1a"/>
<polygon points="253.9,188.3 257.6,181.5 250.2,181.5" fill="#9b1a1a"/>
<polygon points="275.5,193.3 279.2,186.5 271.8,186.5" fill="#9b1a1a"/>
<polygon points="297.1,199.0 300.9,192.2 293.4,192.2" fill="#9b1a1a"/>
<polygon points="318.7,197.2 322.5,190.3 315.0,190.3" fill="#9b1a1a"/>
<polygon points="340.3,197.8 344.1,191.0 336.6,191.0" fill="#9b1a1a"/>
<polygon points="361.9,198.3 365.7,191.5 358.2,191.5" fill="#9b1a1a"/>
<polygon points="383.5,197.8 387.2,191.0 379.8,191.0" fill="#9b1a1a"/>
<polygon points="405.1,207.3 408.9,200.5 401.4,200.5" fill="#9b1a1a"/>
<polygon points="426.7,225.3 430.5,218.5 423.0,218.5" fill="#9b1a1a"/>
<polygon points="448.3,232.3 452.1,225.5 444.6,225.5" fill="#9b1a1a"/>
<polygon points="469.9,237.3 473.7,230.5 466.2,230.5" fill="#9b1a1a"/>
<polygon points="491.5,240.2 495.2,233.3 487.8,233.3" fill="#9b1a1a"/>
<polygon points="513.1,248.3 516.9,241.5 509.4,241.5" fill="#9b1a1a"/>
<polygon points="534.7,262.2 538.5,255.3 531.0,255.3" fill="#9b1a1a"/>
<circle cx="59.5" cy="176.0" r="3.7" fill="#0c8a2c"/>
<circle cx="81.1" cy="183.0" r="3.7" fill="#0c8a2c"/>
<circle cx="102.7" cy="187.0" r="3.7" fill="#0c8a2c"/>
<circle cx="124.3" cy="188.0" r="3.7" fill="#0c8a2c"/>
<circle cx="145.9" cy="188.5" r="3.7" fill="#0c8a2c"/>
<circle cx="167.5" cy="189.0" r="3.7" fill="#0c8a2c"/>
<circle cx="189.1" cy="191.0" r="3.7" fill="#0c8a2c"/>
<circle cx="210.7" cy="193.0" r="3.7" fill="#0c8a2c"/>
<circle cx="232.3" cy="196.0" r="3.7" fill="#0c8a2c"/>
<circle cx="253.9" cy="201.0" r="3.7" fill="#0c8a2c"/>
<circle cx="275.5" cy="207.0" r="3.7" fill="#0c8a2c"/>
<circle cx="297.1" cy="213.0" r="3.7" fill="#0c8a2c"/>
<circle cx="318.7" cy="218.0" r="3.7" fill="#0c8a2c"/>
<circle cx="340.3" cy="222.0" r="3.7" fill="#0c8a2c"/>
<circle cx="361.9" cy="225.5" r="3.7" fill="#0c8a2c"/>
<circle cx="383.5" cy="230.5" r="3.7" fill="#0c8a2c"/>
<circle cx="405.1" cy="235.2" r="3.7" fill="#0c8a2c"/>
<circle cx="426.7" cy="239.4" r="3.7" fill="#0c8a2c"/>
<circle cx="448.3" cy="254.3" r="3.7" fill="#0c8a2c"/>
<circle cx="469.9" cy="256.0" r="3.7" fill="#0c8a2c"/>
<circle cx="491.5" cy="257.5" r="3.7" fill="#0c8a2c"/>
<circle cx="513.1" cy="257.2" r="3.7" fill="#0c8a2c"/>
<circle cx="534.7" cy="252.0" r="3.7" fill="#0c8a2c"/>
<rect x="56.5" y="168.9" width="6.1" height="6.1" fill="#9620cc"/>
<rect x="78.0" y="175.4" width="6.1" height="6.1" fill="#9620cc"/>
<rect x="99.7" y="178.9" width="6.1" height="6.1" fill="#9620cc"/>
<rect x="121.3" y="179.9" width="6.1" height="6.1" fill="#9620cc"/>
<rect x="142.8" y="180.9" width="6.1" height="6.1" fill="#9620cc"/>
<rect x="164.4" y="181.9" width="6.1" height="6.1" fill="#9620cc"/>
<rect x="186.1" y="183.9" width="6.1" height="6.1" fill="#9620cc"/>
<rect x="207.7" y="185.9" width="6.1" height="6.1" fill="#9620cc"/>
<rect x="229.2" y="187.9" width="6.1" height="6.1" fill="#9620cc"/>
<rect x="250.8" y="190.9" width="6.1" height="6.1" fill="#9620cc"/>
<rect x="272.4" y="193.9" width="6.1" height="6.1" fill="#9620cc"/>
<rect x="294.1" y="196.9" width="6.1" height="6.1" fill="#9620cc"/>
<rect x="315.7" y="198.9" width="6.1" height="6.1" fill="#9620cc"/>
<rect x="337.2" y="196.9" width="6.1" height="6.1" fill="#9620cc"/>
<rect x="358.9" y="194.9" width="6.1" height="6.1" fill="#9620cc"/>
<rect x="380.4" y="191.9" width="6.1" height="6.1" fill="#9620cc"/>
<rect x="402.1" y="192.9" width="6.1" height="6.1" fill="#9620cc"/>
<rect x="423.7" y="200.9" width="6.1" height="6.1" fill="#9620cc"/>
<rect x="445.2" y="210.9" width="6.1" height="6.1" fill="#9620cc"/>
<rect x="466.9" y="220.8" width="6.1" height="6.1" fill="#9620cc"/>
<rect x="488.4" y="226.3" width="6.1" height="6.1" fill="#9620cc"/>
<rect x="510.1" y="233.3" width="6.1" height="6.1" fill="#9620cc"/>
<rect x="531.7" y="240.4" width="6.1" height="6.1" fill="#9620cc"/>
<polygon points="59.5,179.7 63.8,184.0 59.5,188.3 55.2,184.0" fill="#555555"/>
<polygon points="81.1,185.2 85.4,189.5 81.1,193.8 76.8,189.5" fill="#555555"/>
<polygon points="102.7,187.7 107.0,192.0 102.7,196.3 98.4,192.0" fill="#555555"/>
<polygon points="124.3,187.2 128.6,191.5 124.3,195.8 120.0,191.5" fill="#555555"/>
<polygon points="145.9,187.7 150.2,192.0 145.9,196.3 141.6,192.0" fill="#555555"/>
<polygon points="167.5,187.2 171.8,191.5 167.5,195.8 163.2,191.5" fill="#555555"/>
<polygon points="189.1,188.7 193.4,193.0 189.1,197.3 184.8,193.0" fill="#555555"/>
<polygon points="210.7,190.7 215.0,195.0 210.7,199.3 206.4,195.0" fill="#555555"/>
<polygon points="232.3,192.7 236.6,197.0 232.3,201.3 228.0,197.0" fill="#555555"/>
<polygon points="253.9,195.7 258.2,200.0 253.9,204.3 249.6,200.0" fill="#555555"/>
<polygon points="275.5,199.7 279.8,204.0 275.5,208.3 271.2,204.0" fill="#555555"/>
<polygon points="297.1,203.7 301.4,208.0 297.1,212.3 292.8,208.0" fill="#555555"/>
<polygon points="318.7,207.7 323.0,212.0 318.7,216.3 314.4,212.0" fill="#555555"/>
<polygon points="340.3,210.7 344.6,215.0 340.3,219.3 336.0,215.0" fill="#555555"/>
<polygon points="361.9,213.7 366.2,218.0 361.9,222.3 357.6,218.0" fill="#555555"/>
<polygon points="383.5,216.2 387.8,220.5 383.5,224.8 379.2,220.5" fill="#555555"/>
<polygon points="405.1,218.3 409.4,222.6 405.1,226.9 400.8,222.6" fill="#555555"/>
<polygon points="426.7,220.7 431.0,225.0 426.7,229.3 422.4,225.0" fill="#555555"/>
<polygon points="448.3,219.7 452.6,224.0 448.3,228.3 444.0,224.0" fill="#555555"/>
<polygon points="469.9,222.0 474.2,226.3 469.9,230.6 465.6,226.3" fill="#555555"/>
<polygon points="491.5,227.7 495.8,232.0 491.5,236.3 487.2,232.0" fill="#555555"/>
<polygon points="513.1,233.9 517.4,238.2 513.1,242.5 508.8,238.2" fill="#555555"/>
<polygon points="534.7,235.4 539.0,239.7 534.7,244.0 530.4,239.7" fill="#555555"/>
<polygon points="59.5,178.7 63.2,185.5 55.8,185.5" fill="#d98c0a"/>
<polygon points="81.1,185.7 84.8,192.5 77.3,192.5" fill="#d98c0a"/>
<polygon points="102.7,188.2 106.5,195.0 99.0,195.0" fill="#d98c0a"/>
<polygon points="124.3,187.7 128.1,194.5 120.6,194.5" fill="#d98c0a"/>
<polygon points="145.9,188.2 149.7,195.0 142.2,195.0" fill="#d98c0a"/>
<polygon points="167.5,188.7 171.2,195.5 163.8,195.5" fill="#d98c0a"/>
<polygon points="189.1,190.7 192.9,197.5 185.4,197.5" fill="#d98c0a"/>
<polygon points="210.7,194.2 214.5,201.0 207.0,201.0" fill="#d98c0a"/>
<polygon points="232.3,195.2 236.1,202.0 228.6,202.0" fill="#d98c0a"/>
<polygon points="253.9,200.7 257.6,207.5 250.2,207.5" fill="#d98c0a"/>
<polygon points="275.5,211.2 279.2,218.0 271.8,218.0" fill="#d98c0a"/>
<polygon points="297.1,217.2 300.9,224.0 293.4,224.0" fill="#d98c0a"/>
<polygon points="318.7,232.0 322.5,238.8 315.0,238.8" fill="#d98c0a"/>
<polygon points="340.3,241.1 344.1,247.9 336.6,247.9" fill="#d98c0a"/>
<polygon points="361.9,249.7 365.7,256.5 358.2,256.5" fill="#d98c0a"/>
<polygon points="383.5,254.7 387.2,261.5 379.8,261.5" fill="#d98c0a"/>
<polygon points="405.1,256.0 408.9,262.9 401.4,262.9" fill="#d98c0a"/>
<polygon points="426.7,256.4 430.5,263.3 423.0,263.3" fill="#d98c0a"/>
<polygon points="448.3,256.6 452.1,263.5 444.6,263.5" fill="#d98c0a"/>
<polygon points="469.9,255.7 473.7,262.5 466.2,262.5" fill="#d98c0a"/>
<polygon points="491.5,250.8 495.2,257.7 487.8,257.7" fill="#d98c0a"/>
<polygon points="513.1,241.7 516.9,248.5 509.4,248.5" fill="#d98c0a"/>
<polygon points="534.7,228.2 538.5,235.1 531.0,235.1" fill="#d98c0a"/>
<polygon points="63.9,158.0 57.0,154.2 57.0,161.8" fill="#0b5aa9"/>
<polygon points="85.4,165.0 78.6,161.2 78.6,168.8" fill="#0b5aa9"/>
<polygon points="107.0,170.0 100.2,166.2 100.2,173.8" fill="#0b5aa9"/>
<polygon points="128.7,171.5 121.8,167.8 121.8,175.2" fill="#0b5aa9"/>
<polygon points="150.2,172.5 143.4,168.8 143.4,176.2" fill="#0b5aa9"/>
<polygon points="171.8,173.5 165.0,169.8 165.0,177.2" fill="#0b5aa9"/>
<polygon points="193.5,176.0 186.6,172.2 186.6,179.8" fill="#0b5aa9"/>
<polygon points="215.1,179.0 208.2,175.2 208.2,182.8" fill="#0b5aa9"/>
<polygon points="236.7,182.0 229.8,178.2 229.8,185.8" fill="#0b5aa9"/>
<polygon points="258.2,187.0 251.4,183.2 251.4,190.8" fill="#0b5aa9"/>
<polygon points="279.9,193.0 273.0,189.2 273.0,196.8" fill="#0b5aa9"/>
<polygon points="301.5,199.0 294.6,195.2 294.6,202.8" fill="#0b5aa9"/>
<polygon points="323.1,205.0 316.2,201.2 316.2,208.8" fill="#0b5aa9"/>
<polygon points="344.7,211.0 337.8,207.2 337.8,214.8" fill="#0b5aa9"/>
<polygon points="366.3,216.0 359.4,212.2 359.4,219.8" fill="#0b5aa9"/>
<polygon points="387.9,221.0 381.0,217.2 381.0,224.8" fill="#0b5aa9"/>
<polygon points="409.5,225.0 402.6,221.2 402.6,228.8" fill="#0b5aa9"/>
<polygon points="431.1,228.0 424.2,224.2 424.2,231.8" fill="#0b5aa9"/>
<polygon points="452.7,229.0 445.8,225.2 445.8,232.8" fill="#0b5aa9"/>
<polygon points="474.3,232.0 467.4,228.2 467.4,235.8" fill="#0b5aa9"/>
<polygon points="495.9,232.5 489.0,228.8 489.0,236.2" fill="#0b5aa9"/>
<polygon points="517.5,230.8 510.6,227.1 510.6,234.6" fill="#0b5aa9"/>
<polygon points="539.1,226.8 532.2,223.1 532.2,230.6" fill="#0b5aa9"/>
<polygon points="55.1,177.0 62.0,173.2 62.0,180.8" fill="#9b1a1a"/>
<polygon points="76.8,183.5 83.6,179.8 83.6,187.2" fill="#9b1a1a"/>
<polygon points="98.4,187.0 105.2,183.2 105.2,190.8" fill="#9b1a1a"/>
<polygon points="120.0,187.5 126.8,183.8 126.8,191.2" fill="#9b1a1a"/>
<polygon points="141.6,188.0 148.4,184.2 148.4,191.8" fill="#9b1a1a"/>
<polygon points="163.2,188.5 170.0,184.8 170.0,192.2" fill="#9b1a1a"/>
<polygon points="184.8,190.0 191.6,186.2 191.6,193.8" fill="#9b1a1a"/>
<polygon points="206.4,192.0 213.2,188.2 213.2,195.8" fill="#9b1a1a"/>
<polygon points="228.0,194.5 234.8,190.8 234.8,198.2" fill="#9b1a1a"/>
<polygon points="249.6,198.0 256.4,194.2 256.4,201.8" fill="#9b1a1a"/>
<polygon points="271.1,203.0 278.0,199.2 278.0,206.8" fill="#9b1a1a"/>
<polygon points="292.8,208.0 299.6,204.2 299.6,211.8" fill="#9b1a1a"/>
<polygon points="314.4,213.0 321.2,209.2 321.2,216.8" fill="#9b1a1a"/>
<polygon points="335.9,218.0 342.8,214.2 342.8,221.8" fill="#9b1a1a"/>
<polygon points="357.6,222.0 364.4,218.2 364.4,225.8" fill="#9b1a1a"/>
<polygon points="379.1,225.5 386.0,221.8 386.0,229.2" fill="#9b1a1a"/>
<polygon points="400.8,228.0 407.6,224.2 407.6,231.8" fill="#9b1a1a"/>
<polygon points="422.4,230.0 429.2,226.2 429.2,233.8" fill="#9b1a1a"/>
<polygon points="443.9,233.0 450.8,229.2 450.8,236.8" fill="#9b1a1a"/>
<polygon points="465.6,237.0 472.4,233.2 472.4,240.8" fill="#9b1a1a"/>
<polygon points="487.1,236.0 494.0,232.2 494.0,239.8" fill="#9b1a1a"/>
<polygon points="508.8,229.5 515.6,225.8 515.6,233.2" fill="#9b1a1a"/>
<polygon points="530.4,224.0 537.2,220.2 537.2,227.8" fill="#9b1a1a"/>
<polygon points="59.5,172.3 63.2,165.5 55.8,165.5" fill="#0c8a2c"/>
<polygon points="81.1,180.3 84.8,173.5 77.3,173.5" fill="#0c8a2c"/>
<polygon points="102.7,182.9 106.5,176.1 99.0,176.1" fill="#0c8a2c"/>
<polygon points="124.3,181.8 128.1,175.0 120.6,175.0" fill="#0c8a2c"/>
<polygon points="145.9,184.3 149.7,177.5 142.2,177.5" fill="#0c8a2c"/>
<polygon points="167.5,187.3 171.2,180.5 163.8,180.5" fill="#0c8a2c"/>
<polygon points="189.1,190.3 192.9,183.5 185.4,183.5" fill="#0c8a2c"/>
<polygon points="210.7,191.3 214.5,184.5 207.0,184.5" fill="#0c8a2c"/>
<polygon points="232.3,193.3 236.1,186.5 228.6,186.5" fill="#0c8a2c"/>
<polygon points="253.9,198.3 257.6,191.5 250.2,191.5" fill="#0c8a2c"/>
<polygon points="275.5,204.3 279.2,197.5 271.8,197.5" fill="#0c8a2c"/>
<polygon points="297.1,210.3 300.9,203.5 293.4,203.5" fill="#0c8a2c"/>
<polygon points="318.7,216.3 322.5,209.5 315.0,209.5" fill="#0c8a2c"/>
<polygon points="340.3,221.3 344.1,214.5 336.6,214.5" fill="#0c8a2c"/>
<polygon points="361.9,225.3 365.7,218.5 358.2,218.5" fill="#0c8a2c"/>
<polygon points="383.5,229.3 387.2,222.5 379.8,222.5" fill="#0c8a2c"/>
<polygon points="405.1,232.8 408.9,226.0 401.4,226.0" fill="#0c8a2c"/>
<polygon points="426.7,235.3 430.5,228.5 423.0,228.5" fill="#0c8a2c"/>
<polygon points="448.3,236.7 452.1,229.8 444.6,229.8" fill="#0c8a2c"/>
<polygon points="469.9,237.7 473.7,230.8 466.2,230.8" fill="#0c8a2c"/>
<polygon points="491.5,236.5 495.2,229.7 487.8,229.7" fill="#0c8a2c"/>
<polygon points="513.1,232.3 516.9,225.5 509.4,225.5" fill="#0c8a2c"/>
<polygon points="534.7,224.8 538.5,217.9 531.0,217.9" fill="#0c8a2c"/>
<circle cx="59.5" cy="159.8" r="3.7" fill="#9620cc"/>
<circle cx="81.1" cy="166.0" r="3.7" fill="#9620cc"/>
<circle cx="102.7" cy="171.0" r="3.7" fill="#9620cc"/>
<circle cx="124.3" cy="170.4" r="3.7" fill="#9620cc"/>
<circle cx="145.9" cy="171.6" r="3.7" fill="#9620cc"/>
<circle cx="167.5" cy="172.0" r="3.7" fill="#9620cc"/>
<circle cx="189.1" cy="173.5" r="3.7" fill="#9620cc"/>
<circle cx="210.7" cy="174.0" r="3.7" fill="#9620cc"/>
<circle cx="232.3" cy="175.0" r="3.7" fill="#9620cc"/>
<circle cx="253.9" cy="177.0" r="3.7" fill="#9620cc"/>
<circle cx="275.5" cy="182.5" r="3.7" fill="#9620cc"/>
<circle cx="297.1" cy="184.8" r="3.7" fill="#9620cc"/>
<circle cx="318.7" cy="184.2" r="3.7" fill="#9620cc"/>
<circle cx="340.3" cy="181.1" r="3.7" fill="#9620cc"/>
<circle cx="361.9" cy="176.6" r="3.7" fill="#9620cc"/>
<circle cx="383.5" cy="172.0" r="3.7" fill="#9620cc"/>
<circle cx="405.1" cy="168.7" r="3.7" fill="#9620cc"/>
<circle cx="426.7" cy="170.0" r="3.7" fill="#9620cc"/>
<circle cx="448.3" cy="176.7" r="3.7" fill="#9620cc"/>
<circle cx="469.9" cy="183.0" r="3.7" fill="#9620cc"/>
<circle cx="491.5" cy="188.5" r="3.7" fill="#9620cc"/>
<circle cx="513.1" cy="195.0" r="3.7" fill="#9620cc"/>
<circle cx="534.7" cy="212.6" r="3.7" fill="#9620cc"/>
<rect x="56.5" y="176.9" width="6.1" height="6.1" fill="#555555"/>
<rect x="78.0" y="183.4" width="6.1" height="6.1" fill="#555555"/>
<rect x="99.7" y="186.9" width="6.1" height="6.1" fill="#555555"/>
<rect x="121.3" y="187.4" width="6.1" height="6.1" fill="#555555"/>
<rect x="142.8" y="187.9" width="6.1" height="6.1" fill="#555555"/>
<rect x="164.4" y="188.9" width="6.1" height="6.1" fill="#555555"/>
<rect x="186.1" y="190.9" width="6.1" height="6.1" fill="#555555"/>
<rect x="207.7" y="192.9" width="6.1" height="6.1" fill="#555555"/>
<rect x="229.2" y="195.8" width="6.1" height="6.1" fill="#555555"/>
<rect x="250.8" y="199.9" width="6.1" height="6.1" fill="#555555"/>
<rect x="272.4" y="204.9" width="6.1" height="6.1" fill="#555555"/>
<rect x="294.1" y="208.9" width="6.1" height="6.1" fill="#555555"/>
<rect x="315.7" y="212.9" width="6.1" height="6.1" fill="#555555"/>
<rect x="337.2" y="215.9" width="6.1" height="6.1" fill="#555555"/>
<rect x="358.9" y="217.9" width="6.1" height="6.1" fill="#555555"/>
<rect x="380.4" y="219.4" width="6.1" height="6.1" fill="#555555"/>
<rect x="402.1" y="219.4" width="6.1" height="6.1" fill="#555555"/>
<rect x="423.7" y="218.4" width="6.1" height="6.1" fill="#555555"/>
<rect x="445.2" y="216.6" width="6.1" height="6.1" fill="#555555"/>
<rect x="466.9" y="216.5" width="6.1" height="6.1" fill="#555555"/>
<rect x="488.4" y="213.1" width="6.1" height="6.1" fill="#555555"/>
<rect x="510.1" y="209.4" width="6.1" height="6.1" fill="#555555"/>
<rect x="531.7" y="205.6" width="6.1" height="6.1" fill="#555555"/>
<polygon points="59.5,146.5 63.8,150.8 59.5,155.1 55.2,150.8" fill="#d98c0a"/>
<polygon points="81.1,153.4 85.4,157.7 81.1,162.0 76.8,157.7" fill="#d98c0a"/>
<polygon points="102.7,160.9 107.0,165.2 102.7,169.5 98.4,165.2" fill="#d98c0a"/>
<polygon points="124.3,162.7 128.6,167.0 124.3,171.3 120.0,167.0" fill="#d98c0a"/>
<polygon points="145.9,164.4 150.2,168.7 145.9,173.0 141.6,168.7" fill="#d98c0a"/>
<polygon points="167.5,165.7 171.8,170.0 167.5,174.3 163.2,170.0" fill="#d98c0a"/>
<polygon points="189.1,166.7 193.4,171.0 189.1,175.3 184.8,171.0" fill="#d98c0a"/>
<polygon points="210.7,174.1 215.0,178.4 210.7,182.7 206.4,178.4" fill="#d98c0a"/>
<polygon points="232.3,175.1 236.6,179.4 232.3,183.7 228.0,179.4" fill="#d98c0a"/>
<polygon points="253.9,183.2 258.2,187.5 253.9,191.8 249.6,187.5" fill="#d98c0a"/>
<polygon points="275.5,191.2 279.8,195.5 275.5,199.8 271.2,195.5" fill="#d98c0a"/>
<polygon points="297.1,196.7 301.4,201.0 297.1,205.3 292.8,201.0" fill="#d98c0a"/>
<polygon points="318.7,201.7 323.0,206.0 318.7,210.3 314.4,206.0" fill="#d98c0a"/>
<polygon points="340.3,207.7 344.6,212.0 340.3,216.3 336.0,212.0" fill="#d98c0a"/>
<polygon points="361.9,210.2 366.2,214.5 361.9,218.8 357.6,214.5" fill="#d98c0a"/>
<polygon points="383.5,206.7 387.8,211.0 383.5,215.3 379.2,211.0" fill="#d98c0a"/>
<polygon points="405.1,199.4 409.4,203.7 405.1,208.0 400.8,203.7" fill="#d98c0a"/>
<polygon points="426.7,196.5 431.0,200.8 426.7,205.1 422.4,200.8" fill="#d98c0a"/>
<polygon points="448.3,197.1 452.6,201.4 448.3,205.7 444.0,201.4" fill="#d98c0a"/>
<polygon points="469.9,199.3 474.2,203.6 469.9,207.9 465.6,203.6" fill="#d98c0a"/>
<polygon points="491.5,200.1 495.8,204.4 491.5,208.7 487.2,204.4" fill="#d98c0a"/>
<polygon points="513.1,201.0 517.4,205.3 513.1,209.6 508.8,205.3" fill="#d98c0a"/>
<polygon points="534.7,197.7 539.0,202.0 534.7,206.3 530.4,202.0" fill="#d98c0a"/>
<polygon points="59.5,152.0 63.2,158.8 55.8,158.8" fill="#0b5aa9"/>
<polygon points="81.1,159.2 84.8,166.1 77.3,166.1" fill="#0b5aa9"/>
<polygon points="102.7,171.3 106.5,178.2 99.0,178.2" fill="#0b5aa9"/>
<polygon points="124.3,171.2 128.1,178.0 120.6,178.0" fill="#0b5aa9"/>
<polygon points="145.9,169.7 149.7,176.5 142.2,176.5" fill="#0b5aa9"/>
<polygon points="167.5,168.2 171.2,175.0 163.8,175.0" fill="#0b5aa9"/>
<polygon points="189.1,167.2 192.9,174.0 185.4,174.0" fill="#0b5aa9"/>
<polygon points="210.7,166.2 214.5,173.0 207.0,173.0" fill="#0b5aa9"/>
<polygon points="232.3,165.3 236.1,172.2 228.6,172.2" fill="#0b5aa9"/>
<polygon points="253.9,165.0 257.6,171.8 250.2,171.8" fill="#0b5aa9"/>
<polygon points="275.5,166.2 279.2,173.0 271.8,173.0" fill="#0b5aa9"/>
<polygon points="297.1,164.2 300.9,171.0 293.4,171.0" fill="#0b5aa9"/>
<polygon points="318.7,157.8 322.5,164.6 315.0,164.6" fill="#0b5aa9"/>
<polygon points="340.3,151.5 344.1,158.3 336.6,158.3" fill="#0b5aa9"/>
<polygon points="361.9,144.8 365.7,151.7 358.2,151.7" fill="#0b5aa9"/>
<polygon points="383.5,140.7 387.2,147.5 379.8,147.5" fill="#0b5aa9"/>
<polygon points="405.1,139.8 408.9,146.7 401.4,146.7" fill="#0b5aa9"/>
<polygon points="426.7,145.7 430.5,152.5 423.0,152.5" fill="#0b5aa9"/>
<polygon points="448.3,156.7 452.1,163.5 444.6,163.5" fill="#0b5aa9"/>
<polygon points="469.9,164.5 473.7,171.3 466.2,171.3" fill="#0b5aa9"/>
<polygon points="491.5,172.2 495.2,179.0 487.8,179.0" fill="#0b5aa9"/>
<polygon points="513.1,182.5 516.9,189.3 509.4,189.3" fill="#0b5aa9"/>
<polygon points="534.7,194.2 538.5,201.0 531.0,201.0" fill="#0b5aa9"/>
<polygon points="63.9,166.0 57.0,162.2 57.0,169.8" fill="#9b1a1a"/>
<polygon points="85.4,172.0 78.6,168.2 78.6,175.8" fill="#9b1a1a"/>
<polygon points="107.0,174.0 100.2,170.2 100.2,177.8" fill="#9b1a1a"/>
<polygon points="128.7,174.0 121.8,170.2 121.8,177.8" fill="#9b1a1a"/>
<polygon points="150.2,174.0 143.4,170.2 143.4,177.8" fill="#9b1a1a"/>
<polygon points="171.8,175.2 165.0,171.4 165.0,178.9" fill="#9b1a1a"/>
<polygon points="193.5,176.0 186.6,172.2 186.6,179.8" fill="#9b1a1a"/>
<polygon points="215.1,174.4 208.2,170.7 208.2,178.2" fill="#9b1a1a"/>
<polygon points="236.7,175.0 229.8,171.2 229.8,178.8" fill="#9b1a1a"/>
<polygon points="258.2,179.6 251.4,175.8 251.4,183.3" fill="#9b1a1a"/>
<polygon points="279.9,188.8 273.0,185.1 273.0,192.6" fill="#9b1a1a"/>
<polygon points="301.5,195.0 294.6,191.2 294.6,198.8" fill="#9b1a1a"/>
<polygon points="323.1,203.0 316.2,199.2 316.2,206.8" fill="#9b1a1a"/>
<polygon points="344.7,211.0 337.8,207.2 337.8,214.8" fill="#9b1a1a"/>
<polygon points="366.3,214.5 359.4,210.8 359.4,218.2" fill="#9b1a1a"/>
<polygon points="387.9,211.9 381.0,208.2 381.0,215.7" fill="#9b1a1a"/>
<polygon points="409.5,206.6 402.6,202.8 402.6,210.3" fill="#9b1a1a"/>
<polygon points="431.1,203.0 424.2,199.2 424.2,206.8" fill="#9b1a1a"/>
<polygon points="452.7,205.5 445.8,201.8 445.8,209.2" fill="#9b1a1a"/>
<polygon points="474.3,206.0 467.4,202.2 467.4,209.8" fill="#9b1a1a"/>
<polygon points="495.9,205.0 489.0,201.2 489.0,208.8" fill="#9b1a1a"/>
<polygon points="517.5,200.8 510.6,197.1 510.6,204.6" fill="#9b1a1a"/>
<polygon points="539.1,200.2 532.2,196.4 532.2,203.9" fill="#9b1a1a"/>
<polygon points="55.1,177.0 62.0,173.2 62.0,180.8" fill="#0c8a2c"/>
<polygon points="76.8,184.0 83.6,180.2 83.6,187.8" fill="#0c8a2c"/>
<polygon points="98.4,190.0 105.2,186.2 105.2,193.8" fill="#0c8a2c"/>
<polygon points="120.0,191.0 126.8,187.2 126.8,194.8" fill="#0c8a2c"/>
<polygon points="141.6,193.0 148.4,189.2 148.4,196.8" fill="#0c8a2c"/>
<polygon points="163.2,197.0 170.0,193.2 170.0,200.8" fill="#0c8a2c"/>
<polygon points="184.8,203.0 191.6,199.2 191.6,206.8" fill="#0c8a2c"/>
<polygon points="206.4,203.5 213.2,199.8 213.2,207.2" fill="#0c8a2c"/>
<polygon points="228.0,204.5 234.8,200.8 234.8,208.2" fill="#0c8a2c"/>
<polygon points="249.6,208.9 256.4,205.2 256.4,212.7" fill="#0c8a2c"/>
<polygon points="271.1,211.0 278.0,207.2 278.0,214.8" fill="#0c8a2c"/>
<polygon points="292.8,214.0 299.6,210.2 299.6,217.8" fill="#0c8a2c"/>
<polygon points="314.4,216.0 321.2,212.2 321.2,219.8" fill="#0c8a2c"/>
<polygon points="335.9,217.5 342.8,213.8 342.8,221.2" fill="#0c8a2c"/>
<polygon points="357.6,218.4 364.4,214.7 364.4,222.2" fill="#0c8a2c"/>
<polygon points="379.1,218.3 386.0,214.6 386.0,222.1" fill="#0c8a2c"/>
<polygon points="400.8,211.3 407.6,207.6 407.6,215.1" fill="#0c8a2c"/>
<polygon points="422.4,205.4 429.2,201.7 429.2,209.2" fill="#0c8a2c"/>
<polygon points="443.9,203.6 450.8,199.8 450.8,207.3" fill="#0c8a2c"/>
<polygon points="465.6,198.5 472.4,194.8 472.4,202.2" fill="#0c8a2c"/>
<polygon points="487.1,194.0 494.0,190.2 494.0,197.8" fill="#0c8a2c"/>
<polygon points="508.8,191.8 515.6,188.1 515.6,195.6" fill="#0c8a2c"/>
<polygon points="530.4,191.9 537.2,188.2 537.2,195.7" fill="#0c8a2c"/>
<polygon points="59.5,164.3 63.2,157.5 55.8,157.5" fill="#9620cc"/>
<polygon points="81.1,171.2 84.8,164.4 77.3,164.4" fill="#9620cc"/>
<polygon points="102.7,178.3 106.5,171.5 99.0,171.5" fill="#9620cc"/>
<polygon points="124.3,182.3 128.1,175.5 120.6,175.5" fill="#9620cc"/>
<polygon points="145.9,186.3 149.7,179.5 142.2,179.5" fill="#9620cc"/>
<polygon points="167.5,189.3 171.2,182.5 163.8,182.5" fill="#9620cc"/>
<polygon points="189.1,192.3 192.9,185.5 185.4,185.5" fill="#9620cc"/>
<polygon points="210.7,195.3 214.5,188.5 207.0,188.5" fill="#9620cc"/>
<polygon points="232.3,200.3 236.1,193.5 228.6,193.5" fill="#9620cc"/>
<polygon points="253.9,207.3 257.6,200.5 250.2,200.5" fill="#9620cc"/>
<polygon points="275.5,216.3 279.2,209.5 271.8,209.5" fill="#9620cc"/>
<polygon points="297.1,226.3 300.9,219.5 293.4,219.5" fill="#9620cc"/>
<polygon points="318.7,236.8 322.5,230.0 315.0,230.0" fill="#9620cc"/>
<polygon points="340.3,241.5 344.1,234.7 336.6,234.7" fill="#9620cc"/>
<polygon points="361.9,243.7 365.7,236.8 358.2,236.8" fill="#9620cc"/>
<polygon points="383.5,240.3 387.2,233.5 379.8,233.5" fill="#9620cc"/>
<polygon points="405.1,235.3 408.9,228.5 401.4,228.5" fill="#9620cc"/>
<polygon points="426.7,228.3 430.5,221.5 423.0,221.5" fill="#9620cc"/>
<polygon points="448.3,218.3 452.1,211.5 444.6,211.5" fill="#9620cc"/>
<polygon points="469.9,212.9 473.7,206.1 466.2,206.1" fill="#9620cc"/>
<polygon points="491.5,206.3 495.2,199.5 487.8,199.5" fill="#9620cc"/>
<polygon points="513.1,199.8 516.9,193.0 509.4,193.0" fill="#9620cc"/>
<polygon points="534.7,190.8 538.5,183.9 531.0,183.9" fill="#9620cc"/>
<circle cx="59.5" cy="165.0" r="3.7" fill="#555555"/>
<circle cx="81.1" cy="171.5" r="3.7" fill="#555555"/>
<circle cx="102.7" cy="176.0" r="3.7" fill="#555555"/>
<circle cx="124.3" cy="178.0" r="3.7" fill="#555555"/>
<circle cx="145.9" cy="180.0" r="3.7" fill="#555555"/>
<circle cx="167.5" cy="182.0" r="3.7" fill="#555555"/>
<circle cx="189.1" cy="185.0" r="3.7" fill="#555555"/>
<circle cx="210.7" cy="188.0" r="3.7" fill="#555555"/>
<circle cx="232.3" cy="191.0" r="3.7" fill="#555555"/>
<circle cx="253.9" cy="195.0" r="3.7" fill="#555555"/>
<circle cx="275.5" cy="199.0" r="3.7" fill="#555555"/>
<circle cx="297.1" cy="202.0" r="3.7" fill="#555555"/>
<circle cx="318.7" cy="203.0" r="3.7" fill="#555555"/>
<circle cx="340.3" cy="200.6" r="3.7" fill="#555555"/>
<circle cx="361.9" cy="192.5" r="3.7" fill="#555555"/>
<circle cx="383.5" cy="182.8" r="3.7" fill="#555555"/>
<circle cx="405.1" cy="170.7" r="3.7" fill="#555555"/>
<circle cx="426.7" cy="161.7" r="3.7" fill="#555555"/>
<circle cx="448.3" cy="153.5" r="3.7" fill="#555555"/>
<circle cx="469.9" cy="145.5" r="3.7" fill="#555555"/>
<circle cx="491.5" cy="138.5" r="3.7" fill="#555555"/>
<circle cx="513.1" cy="134.9" r="3.7" fill="#555555"/>
<circle cx="534.7" cy="130.8" r="3.7" fill="#555555"/>
<rect x="56.5" y="169.5" width="6.1" height="6.1" fill="#d98c0a"/>
<rect x="78.0" y="176.4" width="6.1" height="6.1" fill="#d98c0a"/>
<rect x="99.7" y="180.2" width="6.1" height="6.1" fill="#d98c0a"/>
<rect x="121.3" y="178.4" width="6.1" height="6.1" fill="#d98c0a"/>
<rect x="142.8" y="174.4" width="6.1" height="6.1" fill="#d98c0a"/>
<rect x="164.4" y="173.9" width="6.1" height="6.1" fill="#d98c0a"/>
<rect x="186.1" y="174.8" width="6.1" height="6.1" fill="#d98c0a"/>
<rect x="207.7" y="175.3" width="6.1" height="6.1" fill="#d98c0a"/>
<rect x="229.2" y="176.3" width="6.1" height="6.1" fill="#d98c0a"/>
<rect x="250.8" y="182.9" width="6.1" height="6.1" fill="#d98c0a"/>
<rect x="272.4" y="189.9" width="6.1" height="6.1" fill="#d98c0a"/>
<rect x="294.1" y="195.4" width="6.1" height="6.1" fill="#d98c0a"/>
<rect x="315.7" y="197.8" width="6.1" height="6.1" fill="#d98c0a"/>
<rect x="337.2" y="191.9" width="6.1" height="6.1" fill="#d98c0a"/>
<rect x="358.9" y="182.9" width="6.1" height="6.1" fill="#d98c0a"/>
<rect x="380.4" y="167.8" width="6.1" height="6.1" fill="#d98c0a"/>
<rect x="402.1" y="150.1" width="6.1" height="6.1" fill="#d98c0a"/>
<rect x="423.7" y="136.1" width="6.1" height="6.1" fill="#d98c0a"/>
<rect x="445.2" y="123.5" width="6.1" height="6.1" fill="#d98c0a"/>
<rect x="466.9" y="107.5" width="6.1" height="6.1" fill="#d98c0a"/>
<rect x="488.4" y="90.0" width="6.1" height="6.1" fill="#d98c0a"/>
<rect x="510.1" y="71.5" width="6.1" height="6.1" fill="#d98c0a"/>
<rect x="531.7" y="50.4" width="6.1" height="6.1" fill="#d98c0a"/>
<polygon points="63.9,181.5 57.0,177.8 57.0,185.2" fill="#555555"/>
<polygon points="85.4,189.0 78.6,185.2 78.6,192.8" fill="#555555"/>
<polygon points="107.0,194.0 100.2,190.2 100.2,197.8" fill="#555555"/>
<polygon points="128.7,193.0 121.8,189.2 121.8,196.8" fill="#555555"/>
<polygon points="150.2,194.5 143.4,190.8 143.4,198.2" fill="#555555"/>
<polygon points="171.8,194.0 165.0,190.2 165.0,197.8" fill="#555555"/>
<polygon points="193.5,194.0 186.6,190.2 186.6,197.8" fill="#555555"/>
<polygon points="215.1,195.0 208.2,191.2 208.2,198.8" fill="#555555"/>
<polygon points="236.7,196.0 229.8,192.2 229.8,199.8" fill="#555555"/>
<polygon points="258.2,193.0 251.4,189.2 251.4,196.8" fill="#555555"/>
<polygon points="279.9,191.5 273.0,187.8 273.0,195.2" fill="#555555"/>
<polygon points="301.5,190.4 294.6,186.7 294.6,194.2" fill="#555555"/>
<polygon points="323.1,189.5 316.2,185.8 316.2,193.2" fill="#555555"/>
<polygon points="344.7,187.3 337.8,183.6 337.8,191.1" fill="#555555"/>
<polygon points="366.3,186.0 359.4,182.2 359.4,189.8" fill="#555555"/>
<polygon points="387.9,187.9 381.0,184.2 381.0,191.7" fill="#555555"/>
<polygon points="409.5,196.0 402.6,192.2 402.6,199.8" fill="#555555"/>
<polygon points="431.1,208.0 424.2,204.2 424.2,211.8" fill="#555555"/>
<polygon points="452.7,225.8 445.8,222.1 445.8,229.6" fill="#555555"/>
<polygon points="474.3,244.3 467.4,240.6 467.4,248.1" fill="#555555"/>
<polygon points="495.9,263.5 489.0,259.8 489.0,267.2" fill="#555555"/>
<polygon points="517.5,283.0 510.6,279.2 510.6,286.8" fill="#555555"/>
<polygon points="539.1,304.0 532.2,300.2 532.2,307.8" fill="#555555"/>
<polygon points="55.1,187.6 62.0,183.8 62.0,191.3" fill="#d98c0a"/>
<polygon points="76.8,194.7 83.6,190.9 83.6,198.4" fill="#d98c0a"/>
<polygon points="98.4,197.2 105.2,193.4 105.2,200.9" fill="#d98c0a"/>
<polygon points="120.0,196.5 126.8,192.8 126.8,200.2" fill="#d98c0a"/>
<polygon points="141.6,197.3 148.4,193.6 148.4,201.1" fill="#d98c0a"/>
<polygon points="163.2,197.5 170.0,193.8 170.0,201.2" fill="#d98c0a"/>
<polygon points="184.8,199.6 191.6,195.8 191.6,203.3" fill="#d98c0a"/>
<polygon points="206.4,203.5 213.2,199.8 213.2,207.2" fill="#d98c0a"/>
<polygon points="228.0,204.2 234.8,200.4 234.8,207.9" fill="#d98c0a"/>
<polygon points="249.6,212.7 256.4,208.9 256.4,216.4" fill="#d98c0a"/>
<polygon points="271.1,221.6 278.0,217.8 278.0,225.3" fill="#d98c0a"/>
<polygon points="292.8,226.6 299.6,222.8 299.6,230.3" fill="#d98c0a"/>
<polygon points="314.4,230.0 321.2,226.2 321.2,233.8" fill="#d98c0a"/>
<polygon points="335.9,232.0 342.8,228.2 342.8,235.8" fill="#d98c0a"/>
<polygon points="357.6,234.0 364.4,230.2 364.4,237.8" fill="#d98c0a"/>
<polygon points="379.1,236.5 386.0,232.8 386.0,240.2" fill="#d98c0a"/>
<polygon points="400.8,239.5 407.6,235.8 407.6,243.2" fill="#d98c0a"/>
<polygon points="422.4,243.5 429.2,239.8 429.2,247.2" fill="#d98c0a"/>
<polygon points="443.9,249.0 450.8,245.2 450.8,252.8" fill="#d98c0a"/>
<polygon points="465.6,261.0 472.4,257.2 472.4,264.8" fill="#d98c0a"/>
<polygon points="487.1,271.0 494.0,267.2 494.0,274.8" fill="#d98c0a"/>
<polygon points="508.8,285.5 515.6,281.8 515.6,289.2" fill="#d98c0a"/>
<polygon points="530.4,299.8 537.2,296.1 537.2,303.6" fill="#d98c0a"/>
<polygon points="59.5,160.3 63.2,153.5 55.8,153.5" fill="#0b5aa9"/>
<polygon points="81.1,167.9 84.8,161.1 77.3,161.1" fill="#0b5aa9"/>
<polygon points="102.7,180.0 106.5,173.2 99.0,173.2" fill="#0b5aa9"/>
<polygon points="124.3,185.3 128.1,178.5 120.6,178.5" fill="#0b5aa9"/>
<polygon points="145.9,185.8 149.7,179.0 142.2,179.0" fill="#0b5aa9"/>
<polygon points="167.5,184.8 171.2,178.0 163.8,178.0" fill="#0b5aa9"/>
<polygon points="189.1,187.3 192.9,180.5 185.4,180.5" fill="#0b5aa9"/>
<polygon points="210.7,195.7 214.5,188.8 207.0,188.8" fill="#0b5aa9"/>
<polygon points="232.3,199.2 236.1,192.3 228.6,192.3" fill="#0b5aa9"/>
<polygon points="253.9,207.8 257.6,200.9 250.2,200.9" fill="#0b5aa9"/>
<polygon points="275.5,218.8 279.2,212.0 271.8,212.0" fill="#0b5aa9"/>
<polygon points="297.1,225.0 300.9,218.2 293.4,218.2" fill="#0b5aa9"/>
<polygon points="318.7,230.3 322.5,223.5 315.0,223.5" fill="#0b5aa9"/>
<polygon points="340.3,235.3 344.1,228.5 336.6,228.5" fill="#0b5aa9"/>
<polygon points="361.9,241.2 365.7,234.4 358.2,234.4" fill="#0b5aa9"/>
<polygon points="383.5,247.2 387.2,240.3 379.8,240.3" fill="#0b5aa9"/>
<polygon points="405.1,253.3 408.9,246.5 401.4,246.5" fill="#0b5aa9"/>
<polygon points="426.7,259.8 430.5,252.9 423.0,252.9" fill="#0b5aa9"/>
<polygon points="448.3,269.8 452.1,262.9 444.6,262.9" fill="#0b5aa9"/>
<polygon points="469.9,277.4 473.7,270.5 466.2,270.5" fill="#0b5aa9"/>
<polygon points="491.5,286.2 495.2,279.3 487.8,279.3" fill="#0b5aa9"/>
<polygon points="513.1,293.2 516.9,286.3 509.4,286.3" fill="#0b5aa9"/>
<polygon points="534.7,300.8 538.5,293.9 531.0,293.9" fill="#0b5aa9"/>
<circle cx="59.5" cy="176.0" r="3.7" fill="#9b1a1a"/>
<circle cx="81.1" cy="183.0" r="3.7" fill="#9b1a1a"/>
<circle cx="102.7" cy="186.5" r="3.7" fill="#9b1a1a"/>
<circle cx="124.3" cy="187.0" r="3.7" fill="#9b1a1a"/>
<circle cx="145.9" cy="187.5" r="3.7" fill="#9b1a1a"/>
<circle cx="167.5" cy="188.0" r="3.7" fill="#9b1a1a"/>
<circle cx="189.1" cy="190.0" r="3.7" fill="#9b1a1a"/>
<circle cx="210.7" cy="192.0" r="3.7" fill="#9b1a1a"/>
<circle cx="232.3" cy="195.0" r="3.7" fill="#9b1a1a"/>
<circle cx="253.9" cy="200.0" r="3.7" fill="#9b1a1a"/>
<circle cx="275.5" cy="207.0" r="3.7" fill="#9b1a1a"/>
<circle cx="297.1" cy="213.0" r="3.7" fill="#9b1a1a"/>
<circle cx="318.7" cy="219.2" r="3.7" fill="#9b1a1a"/>
<circle cx="340.3" cy="226.8" r="3.7" fill="#9b1a1a"/>
<circle cx="361.9" cy="233.5" r="3.7" fill="#9b1a1a"/>
<circle cx="383.5" cy="238.5" r="3.7" fill="#9b1a1a"/>
<circle cx="405.1" cy="243.8" r="3.7" fill="#9b1a1a"/>
<circle cx="426.7" cy="250.3" r="3.7" fill="#9b1a1a"/>
<circle cx="448.3" cy="259.9" r="3.7" fill="#9b1a1a"/>
<circle cx="469.9" cy="269.8" r="3.7" fill="#9b1a1a"/>
<circle cx="491.5" cy="274.5" r="3.7" fill="#9b1a1a"/>
<circle cx="513.1" cy="282.5" r="3.7" fill="#9b1a1a"/>
<circle cx="534.7" cy="288.4" r="3.7" fill="#9b1a1a"/>
<rect x="56.5" y="166.9" width="6.1" height="6.1" fill="#0c8a2c"/>
<rect x="78.0" y="173.9" width="6.1" height="6.1" fill="#0c8a2c"/>
<rect x="99.7" y="177.9" width="6.1" height="6.1" fill="#0c8a2c"/>
<rect x="121.3" y="178.9" width="6.1" height="6.1" fill="#0c8a2c"/>
<rect x="142.8" y="179.9" width="6.1" height="6.1" fill="#0c8a2c"/>
<rect x="164.4" y="180.9" width="6.1" height="6.1" fill="#0c8a2c"/>
<rect x="186.1" y="182.9" width="6.1" height="6.1" fill="#0c8a2c"/>
<rect x="207.7" y="184.9" width="6.1" height="6.1" fill="#0c8a2c"/>
<rect x="229.2" y="187.9" width="6.1" height="6.1" fill="#0c8a2c"/>
<rect x="250.8" y="192.9" width="6.1" height="6.1" fill="#0c8a2c"/>
<rect x="272.4" y="198.9" width="6.1" height="6.1" fill="#0c8a2c"/>
<rect x="294.1" y="204.9" width="6.1" height="6.1" fill="#0c8a2c"/>
<rect x="315.7" y="211.2" width="6.1" height="6.1" fill="#0c8a2c"/>
<rect x="337.2" y="218.6" width="6.1" height="6.1" fill="#0c8a2c"/>
<rect x="358.9" y="225.4" width="6.1" height="6.1" fill="#0c8a2c"/>
<rect x="380.4" y="230.4" width="6.1" height="6.1" fill="#0c8a2c"/>
<rect x="402.1" y="236.3" width="6.1" height="6.1" fill="#0c8a2c"/>
<rect x="423.7" y="242.9" width="6.1" height="6.1" fill="#0c8a2c"/>
<rect x="445.2" y="254.9" width="6.1" height="6.1" fill="#0c8a2c"/>
<rect x="466.9" y="262.8" width="6.1" height="6.1" fill="#0c8a2c"/>
<rect x="488.4" y="268.1" width="6.1" height="6.1" fill="#0c8a2c"/>
<rect x="510.1" y="275.9" width="6.1" height="6.1" fill="#0c8a2c"/>
<rect x="531.7" y="282.9" width="6.1" height="6.1" fill="#0c8a2c"/>
<polygon points="59.5,168.3 63.8,172.6 59.5,176.9 55.2,172.6" fill="#9620cc"/>
<polygon points="81.1,175.2 85.4,179.5 81.1,183.8 76.8,179.5" fill="#9620cc"/>
<polygon points="102.7,179.0 107.0,183.3 102.7,187.6 98.4,183.3" fill="#9620cc"/>
<polygon points="124.3,177.2 128.6,181.5 124.3,185.8 120.0,181.5" fill="#9620cc"/>
<polygon points="145.9,177.7 150.2,182.0 145.9,186.3 141.6,182.0" fill="#9620cc"/>
<polygon points="167.5,176.7 171.8,181.0 167.5,185.3 163.2,181.0" fill="#9620cc"/>
<polygon points="189.1,177.7 193.4,182.0 189.1,186.3 184.8,182.0" fill="#9620cc"/>
<polygon points="210.7,177.7 215.0,182.0 210.7,186.3 206.4,182.0" fill="#9620cc"/>
<polygon points="232.3,179.3 236.6,183.6 232.3,187.9 228.0,183.6" fill="#9620cc"/>
<polygon points="253.9,184.1 258.2,188.4 253.9,192.7 249.6,188.4" fill="#9620cc"/>
<polygon points="275.5,191.5 279.8,195.8 275.5,200.1 271.2,195.8" fill="#9620cc"/>
<polygon points="297.1,196.7 301.4,201.0 297.1,205.3 292.8,201.0" fill="#9620cc"/>
<polygon points="318.7,201.7 323.0,206.0 318.7,210.3 314.4,206.0" fill="#9620cc"/>
<polygon points="340.3,209.0 344.6,213.3 340.3,217.6 336.0,213.3" fill="#9620cc"/>
<polygon points="361.9,213.7 366.2,218.0 361.9,222.3 357.6,218.0" fill="#9620cc"/>
<polygon points="383.5,218.3 387.8,222.6 383.5,226.9 379.2,222.6" fill="#9620cc"/>
<polygon points="405.1,223.3 409.4,227.6 405.1,231.9 400.8,227.6" fill="#9620cc"/>
<polygon points="426.7,231.7 431.0,236.0 426.7,240.3 422.4,236.0" fill="#9620cc"/>
<polygon points="448.3,242.3 452.6,246.6 448.3,250.9 444.0,246.6" fill="#9620cc"/>
<polygon points="469.9,250.2 474.2,254.5 469.9,258.8 465.6,254.5" fill="#9620cc"/>
<polygon points="491.5,258.5 495.8,262.8 491.5,267.1 487.2,262.8" fill="#9620cc"/>
<polygon points="513.1,268.5 517.4,272.8 513.1,277.1 508.8,272.8" fill="#9620cc"/>
<polygon points="534.7,279.4 539.0,283.7 534.7,288.0 530.4,283.7" fill="#9620cc"/>
<rect x="572.5" y="1.6" width="86.8" height="423.6" fill="#fff" stroke="#c4c4c4" stroke-width="1"/>
<text x="611.1" y="16.3" font-size="10.4" font-weight="bold" fill="#1a1a1a" textLength="22.8" lengthAdjust="spacingAndGlyphs">Lines</text>
<text x="610.9" y="29.0" font-size="10.4" font-weight="bold" fill="#1a1a1a" textLength="39.4" lengthAdjust="spacingAndGlyphs">analyzed</text>
<line x1="576" x2="604.8" y1="37.8" y2="37.8" stroke="#0b5aa9" stroke-width="0.8" stroke-opacity="0.72"/>
<circle cx="590.6" cy="37.8" r="3.7" fill="#0b5aa9"/>
<text x="610.9" y="41.5" font-size="10.4" font-weight="bold" fill="#1a1a1a" textLength="34.2" lengthAdjust="spacingAndGlyphs">1742-10</text>
<line x1="576" x2="604.8" y1="50.6" y2="50.6" stroke="#9b1a1a" stroke-width="0.8" stroke-opacity="0.72" stroke-dasharray="6 4.7"/>
<rect x="587.6" y="47.5" width="6.1" height="6.1" fill="#9b1a1a"/>
<text x="610.9" y="54.3" font-size="10.4" font-weight="bold" fill="#1a1a1a" textLength="34.2" lengthAdjust="spacingAndGlyphs">1785-10</text>
<line x1="576" x2="604.8" y1="63.4" y2="63.4" stroke="#0c8a2c" stroke-width="0.8" stroke-opacity="0.72" stroke-dasharray="3 2.7"/>
<polygon points="590.6,59.1 594.9,63.4 590.6,67.7 586.3,63.4" fill="#0c8a2c"/>
<text x="610.9" y="67.1" font-size="10.4" font-weight="bold" fill="#1a1a1a" textLength="34.2" lengthAdjust="spacingAndGlyphs">1741-10</text>
<line x1="576" x2="604.8" y1="76.2" y2="76.2" stroke="#9620cc" stroke-width="0.8" stroke-opacity="0.72" stroke-dasharray="5 2 1.5 2"/>
<polygon points="590.6,71.8 594.4,78.7 586.9,78.7" fill="#9620cc"/>
<text x="610.9" y="79.9" font-size="10.4" font-weight="bold" fill="#1a1a1a" textLength="37.6" lengthAdjust="spacingAndGlyphs">271M-10</text>
<line x1="576" x2="604.8" y1="88.9" y2="88.9" stroke="#555555" stroke-width="0.8" stroke-opacity="0.72" stroke-dasharray="10 4 3 4"/>
<polygon points="595.0,88.9 588.1,85.2 588.1,92.7" fill="#555555"/>
<text x="610.9" y="92.6" font-size="10.4" font-weight="bold" fill="#1a1a1a" textLength="34.2" lengthAdjust="spacingAndGlyphs">2011-10</text>
<line x1="576" x2="604.8" y1="101.7" y2="101.7" stroke="#d98c0a" stroke-width="0.8" stroke-opacity="0.72"/>
<polygon points="586.2,101.7 593.1,98.0 593.1,105.5" fill="#d98c0a"/>
<text x="610.9" y="105.4" font-size="10.4" font-weight="bold" fill="#1a1a1a" textLength="34.2" lengthAdjust="spacingAndGlyphs">1758-10</text>
<line x1="576" x2="604.8" y1="114.5" y2="114.5" stroke="#0b5aa9" stroke-width="0.8" stroke-opacity="0.72" stroke-dasharray="6 4.7"/>
<polygon points="590.6,118.9 594.4,112.0 586.9,112.0" fill="#0b5aa9"/>
<text x="610.9" y="118.2" font-size="10.4" font-weight="bold" fill="#1a1a1a" textLength="34.2" lengthAdjust="spacingAndGlyphs">1786-10</text>
<line x1="576" x2="604.8" y1="127.3" y2="127.3" stroke="#9b1a1a" stroke-width="0.8" stroke-opacity="0.72" stroke-dasharray="3 2.7"/>
<circle cx="590.6" cy="127.3" r="3.7" fill="#9b1a1a"/>
<text x="610.9" y="131.0" font-size="10.4" font-weight="bold" fill="#1a1a1a" textLength="35.0" lengthAdjust="spacingAndGlyphs">271A-10</text>
<line x1="576" x2="604.8" y1="140.1" y2="140.1" stroke="#0c8a2c" stroke-width="0.8" stroke-opacity="0.72" stroke-dasharray="5 2 1.5 2"/>
<rect x="587.6" y="137.0" width="6.1" height="6.1" fill="#0c8a2c"/>
<text x="610.9" y="143.8" font-size="10.4" font-weight="bold" fill="#1a1a1a" textLength="34.2" lengthAdjust="spacingAndGlyphs">1764-10</text>
<line x1="576" x2="604.8" y1="152.9" y2="152.9" stroke="#9620cc" stroke-width="0.8" stroke-opacity="0.72" stroke-dasharray="10 4 3 4"/>
<polygon points="590.6,148.6 594.9,152.9 590.6,157.2 586.3,152.9" fill="#9620cc"/>
<text x="610.9" y="156.6" font-size="10.4" font-weight="bold" fill="#1a1a1a" textLength="35.0" lengthAdjust="spacingAndGlyphs">178T-10</text>
<line x1="576" x2="604.8" y1="165.6" y2="165.6" stroke="#555555" stroke-width="0.8" stroke-opacity="0.72"/>
<polygon points="590.6,161.3 594.4,168.1 586.9,168.1" fill="#555555"/>
<text x="610.9" y="169.3" font-size="10.4" font-weight="bold" fill="#1a1a1a" textLength="35.0" lengthAdjust="spacingAndGlyphs">106A-10</text>
<line x1="576" x2="604.8" y1="178.4" y2="178.4" stroke="#d98c0a" stroke-width="0.8" stroke-opacity="0.72" stroke-dasharray="6 4.7"/>
<polygon points="595.0,178.4 588.1,174.7 588.1,182.2" fill="#d98c0a"/>
<text x="610.9" y="182.1" font-size="10.4" font-weight="bold" fill="#1a1a1a" textLength="34.2" lengthAdjust="spacingAndGlyphs">2740-10</text>
<line x1="576" x2="604.8" y1="191.2" y2="191.2" stroke="#0b5aa9" stroke-width="0.8" stroke-opacity="0.72" stroke-dasharray="3 2.7"/>
<polygon points="586.2,191.2 593.1,187.5 593.1,195.0" fill="#0b5aa9"/>
<text x="610.9" y="194.9" font-size="10.4" font-weight="bold" fill="#1a1a1a" textLength="35.0" lengthAdjust="spacingAndGlyphs">175T-10</text>
<line x1="576" x2="604.8" y1="204.0" y2="204.0" stroke="#9b1a1a" stroke-width="0.8" stroke-opacity="0.72" stroke-dasharray="5 2 1.5 2"/>
<polygon points="590.6,208.4 594.4,201.5 586.9,201.5" fill="#9b1a1a"/>
<text x="610.9" y="207.7" font-size="10.4" font-weight="bold" fill="#1a1a1a" textLength="34.2" lengthAdjust="spacingAndGlyphs">1744-10</text>
<line x1="576" x2="604.8" y1="216.8" y2="216.8" stroke="#0c8a2c" stroke-width="0.8" stroke-opacity="0.72" stroke-dasharray="10 4 3 4"/>
<circle cx="590.6" cy="216.8" r="3.7" fill="#0c8a2c"/>
<text x="610.9" y="220.5" font-size="10.4" font-weight="bold" fill="#1a1a1a" textLength="35.0" lengthAdjust="spacingAndGlyphs">971T-10</text>
<line x1="576" x2="604.8" y1="229.6" y2="229.6" stroke="#9620cc" stroke-width="0.8" stroke-opacity="0.72"/>
<rect x="587.6" y="226.5" width="6.1" height="6.1" fill="#9620cc"/>
<text x="610.9" y="233.3" font-size="10.4" font-weight="bold" fill="#1a1a1a" textLength="34.2" lengthAdjust="spacingAndGlyphs">1726-10</text>
<line x1="576" x2="604.8" y1="242.4" y2="242.4" stroke="#555555" stroke-width="0.8" stroke-opacity="0.72" stroke-dasharray="6 4.7"/>
<polygon points="590.6,238.1 594.9,242.4 590.6,246.7 586.3,242.4" fill="#555555"/>
<text x="610.9" y="246.1" font-size="10.4" font-weight="bold" fill="#1a1a1a" textLength="34.2" lengthAdjust="spacingAndGlyphs">1756-10</text>
<line x1="576" x2="604.8" y1="255.1" y2="255.1" stroke="#d98c0a" stroke-width="0.8" stroke-opacity="0.72" stroke-dasharray="3 2.7"/>
<polygon points="590.6,250.8 594.4,257.6 586.9,257.6" fill="#d98c0a"/>
<text x="610.9" y="258.8" font-size="10.4" font-weight="bold" fill="#1a1a1a" textLength="34.2" lengthAdjust="spacingAndGlyphs">2104-10</text>
<line x1="576" x2="604.8" y1="267.9" y2="267.9" stroke="#0b5aa9" stroke-width="0.8" stroke-opacity="0.72" stroke-dasharray="5 2 1.5 2"/>
<polygon points="595.0,267.9 588.1,264.2 588.1,271.7" fill="#0b5aa9"/>
<text x="610.9" y="271.6" font-size="10.4" font-weight="bold" fill="#1a1a1a" textLength="34.2" lengthAdjust="spacingAndGlyphs">9717-10</text>
<line x1="576" x2="604.8" y1="280.7" y2="280.7" stroke="#9b1a1a" stroke-width="0.8" stroke-opacity="0.72" stroke-dasharray="10 4 3 4"/>
<polygon points="586.2,280.7 593.1,277.0 593.1,284.5" fill="#9b1a1a"/>
<text x="610.9" y="284.4" font-size="10.4" font-weight="bold" fill="#1a1a1a" textLength="37.6" lengthAdjust="spacingAndGlyphs">971M-10</text>
<line x1="576" x2="604.8" y1="293.5" y2="293.5" stroke="#0c8a2c" stroke-width="0.8" stroke-opacity="0.72"/>
<polygon points="590.6,297.9 594.4,291.0 586.9,291.0" fill="#0c8a2c"/>
<text x="610.9" y="297.2" font-size="10.4" font-weight="bold" fill="#1a1a1a" textLength="35.0" lengthAdjust="spacingAndGlyphs">971R-10</text>
<line x1="576" x2="604.8" y1="306.3" y2="306.3" stroke="#9620cc" stroke-width="0.8" stroke-opacity="0.72" stroke-dasharray="6 4.7"/>
<circle cx="590.6" cy="306.3" r="3.7" fill="#9620cc"/>
<text x="610.9" y="310.0" font-size="10.4" font-weight="bold" fill="#1a1a1a" textLength="35.0" lengthAdjust="spacingAndGlyphs">271A-51</text>
<line x1="576" x2="604.8" y1="319.1" y2="319.1" stroke="#555555" stroke-width="0.8" stroke-opacity="0.72" stroke-dasharray="3 2.7"/>
<rect x="587.6" y="316.0" width="6.1" height="6.1" fill="#555555"/>
<text x="610.9" y="322.8" font-size="10.4" font-weight="bold" fill="#1a1a1a" textLength="34.2" lengthAdjust="spacingAndGlyphs">1782-10</text>
<line x1="576" x2="604.8" y1="331.9" y2="331.9" stroke="#d98c0a" stroke-width="0.8" stroke-opacity="0.72" stroke-dasharray="5 2 1.5 2"/>
<polygon points="590.6,327.6 594.9,331.9 590.6,336.2 586.3,331.9" fill="#d98c0a"/>
<text x="610.9" y="335.6" font-size="10.4" font-weight="bold" fill="#1a1a1a" textLength="34.2" lengthAdjust="spacingAndGlyphs">1787-10</text>
<line x1="576" x2="604.8" y1="344.6" y2="344.6" stroke="#0b5aa9" stroke-width="0.8" stroke-opacity="0.72" stroke-dasharray="10 4 3 4"/>
<polygon points="590.6,340.3 594.4,347.1 586.9,347.1" fill="#0b5aa9"/>
<text x="610.9" y="348.3" font-size="10.4" font-weight="bold" fill="#1a1a1a" textLength="34.2" lengthAdjust="spacingAndGlyphs">1778-10</text>
<line x1="576" x2="604.8" y1="357.4" y2="357.4" stroke="#9b1a1a" stroke-width="0.8" stroke-opacity="0.72"/>
<polygon points="595.0,357.4 588.1,353.7 588.1,361.2" fill="#9b1a1a"/>
<text x="610.9" y="361.1" font-size="10.4" font-weight="bold" fill="#1a1a1a" textLength="34.2" lengthAdjust="spacingAndGlyphs">1759-10</text>
<line x1="576" x2="604.8" y1="370.2" y2="370.2" stroke="#0c8a2c" stroke-width="0.8" stroke-opacity="0.72" stroke-dasharray="6 4.7"/>
<polygon points="586.2,370.2 593.1,366.5 593.1,374.0" fill="#0c8a2c"/>
<text x="610.9" y="373.9" font-size="10.4" font-weight="bold" fill="#1a1a1a" textLength="34.2" lengthAdjust="spacingAndGlyphs">1788-10</text>
<line x1="576" x2="604.8" y1="383.0" y2="383.0" stroke="#9620cc" stroke-width="0.8" stroke-opacity="0.72" stroke-dasharray="3 2.7"/>
<polygon points="590.6,387.3 594.4,380.5 586.9,380.5" fill="#9620cc"/>
<text x="610.9" y="386.7" font-size="10.4" font-weight="bold" fill="#1a1a1a" textLength="35.0" lengthAdjust="spacingAndGlyphs">971C-10</text>
<line x1="576" x2="604.8" y1="395.8" y2="395.8" stroke="#555555" stroke-width="0.8" stroke-opacity="0.72" stroke-dasharray="5 2 1.5 2"/>
<circle cx="590.6" cy="395.8" r="3.7" fill="#555555"/>
<text x="610.9" y="399.5" font-size="10.4" font-weight="bold" fill="#1a1a1a" textLength="34.2" lengthAdjust="spacingAndGlyphs">1783-10</text>
<line x1="576" x2="604.8" y1="408.6" y2="408.6" stroke="#d98c0a" stroke-width="0.8" stroke-opacity="0.72" stroke-dasharray="10 4 3 4"/>
<rect x="587.6" y="405.5" width="6.1" height="6.1" fill="#d98c0a"/>
<text x="610.9" y="412.3" font-size="10.4" font-weight="bold" fill="#1a1a1a" textLength="34.2" lengthAdjust="spacingAndGlyphs">1018-10</text>
</svg>
</body></html>
